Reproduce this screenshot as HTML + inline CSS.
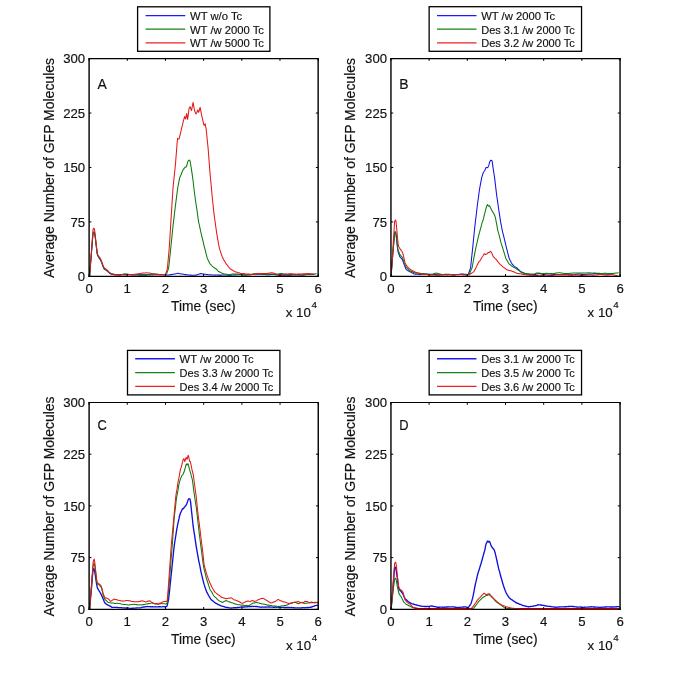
<!DOCTYPE html>
<html><head><meta charset="utf-8"><title>GFP expression</title>
<style>
html,body{margin:0;padding:0;background:#fff;}
svg{display:block;will-change:transform;font-family:"Liberation Sans",sans-serif;}
text{stroke:#111;stroke-width:0.16px;}
</style></head><body>
<svg width="685" height="685" viewBox="0 0 685 685">
<rect x="0" y="0" width="685" height="685" fill="#fff"/>
<defs>
<clipPath id="clipA"><rect x="89.1" y="58.6" width="229.0" height="217.8"/></clipPath>
<clipPath id="clipB"><rect x="390.95" y="58.6" width="229.1" height="217.8"/></clipPath>
<clipPath id="clipC"><rect x="89.1" y="402.5" width="229.2" height="206.8"/></clipPath>
<clipPath id="clipD"><rect x="390.95" y="402.5" width="229.1" height="206.8"/></clipPath>
</defs>
<g id="panelA">
<g clip-path="url(#clipA)">
<polyline points="89.6,276.2 90.1,269.8 90.6,263.6 91.1,257.5 91.6,251.3 92.1,244.9 92.6,238.3 93.1,233.0 93.6,232.4 94.1,232.4 94.6,233.2 95.1,236.5 95.6,240.3 96.1,244.9 96.6,249.1 97.1,253.3 97.6,255.5 98.1,256.3 98.6,257.2 99.1,258.0 99.6,258.7 100.1,259.3 100.6,260.3 101.1,261.4 101.6,262.6 102.1,263.8 102.6,265.2 103.1,266.5 103.6,267.9 104.1,268.8 104.6,269.3 105.1,269.6 105.6,269.9 106.1,270.2 106.6,270.6 107.1,271.0 107.6,271.4 108.1,271.8 108.6,272.3 109.1,272.7 109.6,273.2 110.1,273.5 110.6,273.9 111.1,274.0 111.6,274.2 112.1,274.4 112.6,274.5 113.1,274.7 113.6,274.7 114.1,274.8 114.6,274.8 115.1,274.9 115.6,274.9 116.1,274.9 116.6,274.9 117.1,274.8 117.6,274.8 118.1,274.7 118.6,274.7 119.1,274.7 119.6,274.7 120.1,274.6 120.6,274.6 121.1,274.6 121.6,274.6 122.1,274.6 122.6,274.5 123.1,274.6 123.6,274.6 124.1,274.6 124.6,274.5 125.1,274.5 125.6,274.6 126.1,274.6 126.6,274.6 127.1,274.5 127.6,274.5 128.1,274.7 128.6,274.8 129.1,274.8 129.6,274.7 130.1,274.8 130.6,274.8 131.1,274.8 131.6,274.8 132.1,274.9 132.6,274.9 133.1,274.9 133.6,274.9 134.1,275.0 134.6,275.0 135.1,275.0 135.6,275.0 136.1,275.0 136.6,275.0 137.1,275.0 137.6,275.1 138.1,275.0 138.6,275.1 139.1,275.1 139.6,275.2 140.1,275.2 140.6,275.2 141.1,275.2 141.6,275.1 142.1,275.2 142.6,275.3 143.1,275.3 143.6,275.3 144.1,275.2 144.6,275.2 145.1,275.2 145.6,275.2 146.1,275.1 146.6,275.1 147.1,275.0 147.6,275.0 148.1,275.0 148.6,275.0 149.1,274.9 149.6,274.9 150.1,274.9 150.6,274.9 151.1,274.8 151.6,274.8 152.1,274.9 152.6,274.9 153.1,274.8 153.6,274.8 154.1,274.8 154.6,274.7 155.1,274.7 155.6,274.7 156.1,274.7 156.6,274.7 157.1,274.7 157.6,274.7 158.1,274.7 158.6,274.7 159.1,274.7 159.6,274.7 160.1,274.7 160.6,274.7 161.1,274.7 161.6,274.6 162.1,274.7 162.6,274.8 163.1,274.8 163.6,274.9 164.1,274.9 164.6,274.9 165.1,274.9 165.6,274.9 166.1,274.9 166.6,275.0 167.1,275.1 167.6,275.0 168.1,275.0 168.6,274.9 169.1,274.9 169.6,274.8 170.1,274.7 170.6,274.6 171.1,274.6 171.6,274.5 172.1,274.4 172.6,274.3 173.1,274.2 173.6,274.2 174.1,274.1 174.6,274.0 175.1,273.9 175.6,273.8 176.1,273.7 176.6,273.6 177.1,273.4 177.6,273.3 178.1,273.3 178.6,273.4 179.1,273.6 179.6,273.7 180.1,273.8 180.6,273.8 181.1,273.9 181.6,274.0 182.1,274.0 182.6,274.1 183.1,274.2 183.6,274.3 184.1,274.4 184.6,274.5 185.1,274.6 185.6,274.6 186.1,274.7 186.6,274.7 187.1,274.8 187.6,274.9 188.1,274.9 188.6,275.0 189.1,275.0 189.6,275.0 190.1,275.1 190.6,275.1 191.1,275.1 191.6,275.2 192.1,275.2 192.6,275.2 193.1,275.2 193.6,275.2 194.1,275.3 194.6,275.3 195.1,275.3 195.6,275.1 196.1,275.0 196.6,274.9 197.1,274.7 197.6,274.6 198.1,274.4 198.6,274.3 199.1,274.1 199.6,273.9 200.1,273.7 200.6,273.6 201.1,273.6 201.6,273.7 202.1,273.8 202.6,273.9 203.1,273.9 203.6,274.0 204.1,274.1 204.6,274.2 205.1,274.3 205.6,274.3 206.1,274.4 206.6,274.4 207.1,274.5 207.6,274.6 208.1,274.7 208.6,274.7 209.1,274.7 209.6,274.7 210.1,274.7 210.6,274.8 211.1,274.8 211.6,274.9 212.1,275.0 212.6,275.0 213.1,275.0 213.6,275.0 214.1,275.0 214.6,275.0 215.1,275.1 215.6,275.1 216.1,275.0 216.6,275.0 217.1,275.0 217.6,275.1 218.1,275.1 218.6,275.1 219.1,275.1 219.6,275.1 220.1,275.1 220.6,275.1 221.1,275.1 221.6,275.1 222.1,275.0 222.6,274.9 223.1,274.9 223.6,274.9 224.1,274.9 224.6,274.9 225.1,274.9 225.6,274.9 226.1,274.9 226.6,275.0 227.1,275.0 227.6,275.1 228.1,275.1 228.6,275.1 229.1,275.1 229.6,275.1 230.1,275.1 230.6,275.1 231.1,275.2 231.6,275.2 232.1,275.1 232.6,275.0 233.1,275.0 233.6,275.0 234.1,275.0 234.6,275.0 235.1,274.9 235.6,274.9 236.1,274.8 236.6,274.8 237.1,274.7 237.6,274.7 238.1,274.8 238.6,274.8 239.1,274.8 239.6,274.8 240.1,274.8 240.6,274.8 241.1,274.8 241.6,274.9 242.1,274.9 242.6,274.9 243.1,274.9 243.6,274.8 244.1,274.8 244.6,274.8 245.1,274.8 245.6,274.8 246.1,274.7 246.6,274.7 247.1,274.7 247.6,274.7 248.1,274.7 248.6,274.7 249.1,274.6 249.6,274.6 250.1,274.6 250.6,274.6 251.1,274.6 251.6,274.5 252.1,274.5 252.6,274.4 253.1,274.4 253.6,274.3 254.1,274.2 254.6,274.2 255.1,274.2 255.6,274.2 256.1,274.3 256.6,274.3 257.1,274.3 257.6,274.3 258.1,274.2 258.6,274.2 259.1,274.2 259.6,274.2 260.1,274.2 260.6,274.2 261.1,274.2 261.6,274.2 262.1,274.3 262.6,274.4 263.1,274.4 263.6,274.5 264.1,274.5 264.6,274.5 265.1,274.5 265.6,274.6 266.1,274.6 266.6,274.7 267.1,274.7 267.6,274.7 268.1,274.7 268.6,274.6 269.1,274.6 269.6,274.6 270.1,274.6 270.6,274.5 271.1,274.5 271.6,274.4 272.1,274.4 272.6,274.4 273.1,274.3 273.6,274.4 274.1,274.5 274.6,274.6 275.1,274.7 275.6,274.7 276.1,274.8 276.6,274.9 277.1,274.9 277.6,275.0 278.1,275.1 278.6,275.1 279.1,275.1 279.6,275.1 280.1,275.1 280.6,275.1 281.1,275.1 281.6,275.2 282.1,275.2 282.6,275.1 283.1,275.1 283.6,275.1 284.1,275.1 284.6,275.1 285.1,275.1 285.6,275.1 286.1,275.2 286.6,275.2 287.1,275.2 287.6,275.2 288.1,275.2 288.6,275.2 289.1,275.2 289.6,275.3 290.1,275.3 290.6,275.3 291.1,275.3 291.6,275.3 292.1,275.1 292.6,275.0 293.1,275.0 293.6,275.0 294.1,274.9 294.6,275.0 295.1,275.0 295.6,274.9 296.1,274.8 296.6,274.7 297.1,274.6 297.6,274.7 298.1,274.7 298.6,274.7 299.1,274.8 299.6,274.8 300.1,274.9 300.6,274.9 301.1,275.0 301.6,275.0 302.1,275.1 302.6,275.2 303.1,275.1 303.6,275.0 304.1,275.0 304.6,274.9 305.1,274.8 305.6,274.8 306.1,274.7 306.6,274.6 307.1,274.5 307.6,274.5 308.1,274.4 308.6,274.3 309.1,274.2 309.6,274.2 310.1,274.2 310.6,274.2 311.1,274.3 311.6,274.3 312.1,274.2 312.6,274.2 313.1,274.3 313.6,274.3 314.1,274.3 314.6,274.2" fill="none" stroke="#1010dc" stroke-width="1.05" stroke-linejoin="round"/>
<polyline points="89.6,275.8 90.1,269.5 90.6,263.3 91.1,257.2 91.6,250.9 92.1,244.4 92.6,237.9 93.1,232.7 93.6,232.0 94.1,231.8 94.6,233.0 95.1,236.1 95.6,240.0 96.1,244.4 96.6,248.8 97.1,252.9 97.6,255.1 98.1,256.0 98.6,256.9 99.1,257.8 99.6,258.4 100.1,258.9 100.6,259.7 101.1,260.9 101.6,262.2 102.1,263.6 102.6,265.0 103.1,266.4 103.6,267.5 104.1,268.3 104.6,268.7 105.1,269.2 105.6,269.6 106.1,269.9 106.6,270.1 107.1,270.5 107.6,271.1 108.1,271.7 108.6,272.2 109.1,272.5 109.6,272.9 110.1,273.3 110.6,273.5 111.1,273.7 111.6,273.9 112.1,274.0 112.6,274.1 113.1,274.2 113.6,274.3 114.1,274.5 114.6,274.5 115.1,274.5 115.6,274.5 116.1,274.6 116.6,274.8 117.1,274.9 117.6,275.0 118.1,275.1 118.6,275.2 119.1,275.3 119.6,275.2 120.1,275.0 120.6,274.9 121.1,274.8 121.6,274.6 122.1,274.4 122.6,274.3 123.1,274.2 123.6,274.1 124.1,273.9 124.6,273.8 125.1,273.7 125.6,273.9 126.1,274.0 126.6,274.0 127.1,274.1 127.6,274.1 128.1,274.2 128.6,274.3 129.1,274.4 129.6,274.5 130.1,274.6 130.6,274.7 131.1,274.8 131.6,274.7 132.1,274.7 132.6,274.6 133.1,274.7 133.6,274.7 134.1,274.6 134.6,274.5 135.1,274.4 135.6,274.4 136.1,274.4 136.6,274.4 137.1,274.4 137.6,274.3 138.1,274.3 138.6,274.4 139.1,274.4 139.6,274.4 140.1,274.4 140.6,274.4 141.1,274.4 141.6,274.4 142.1,274.5 142.6,274.4 143.1,274.4 143.6,274.4 144.1,274.4 144.6,274.4 145.1,274.4 145.6,274.5 146.1,274.5 146.6,274.5 147.1,274.5 147.6,274.5 148.1,274.5 148.6,274.4 149.1,274.4 149.6,274.4 150.1,274.4 150.6,274.3 151.1,274.2 151.6,274.3 152.1,274.2 152.6,274.1 153.1,274.0 153.6,274.0 154.1,273.9 154.6,274.0 155.1,273.9 155.6,274.0 156.1,274.1 156.6,274.1 157.1,274.1 157.6,274.2 158.1,274.2 158.6,274.3 159.1,274.4 159.6,274.4 160.1,274.4 160.6,274.4 161.1,274.5 161.6,274.5 162.1,274.5 162.6,274.4 163.1,274.4 163.6,274.5 164.1,274.5 164.6,274.5 165.1,274.4 165.6,274.4 166.1,274.3 166.6,273.7 167.1,272.3 167.6,271.0 168.1,269.5 168.6,268.1 169.1,264.0 169.6,259.3 170.1,254.6 170.6,249.7 171.1,245.0 171.6,240.0 172.1,234.9 172.6,230.0 173.1,225.2 173.6,220.9 174.1,216.6 174.6,212.5 175.1,208.3 175.6,204.4 176.1,200.4 176.6,196.6 177.1,192.6 177.6,188.9 178.1,186.0 178.6,183.4 179.1,180.7 179.6,178.2 180.1,176.7 180.6,175.7 181.1,174.5 181.6,173.2 182.1,172.0 182.6,170.9 183.1,169.8 183.6,169.1 184.1,168.4 184.6,167.8 185.1,167.1 185.6,167.3 186.1,167.0 186.6,166.1 187.1,164.3 187.6,162.2 188.1,161.1 188.6,160.5 189.1,160.1 189.6,160.2 190.1,161.1 190.6,164.0 191.1,167.3 191.6,170.4 192.1,173.8 192.6,177.2 193.1,181.0 193.6,185.2 194.1,189.5 194.6,193.7 195.1,197.5 195.6,201.0 196.1,204.5 196.6,207.7 197.1,211.1 197.6,214.7 198.1,218.5 198.6,221.8 199.1,224.0 199.6,226.3 200.1,228.6 200.6,231.0 201.1,233.3 201.6,235.5 202.1,237.5 202.6,239.6 203.1,241.7 203.6,243.9 204.1,246.0 204.6,247.8 205.1,249.7 205.6,251.8 206.1,253.8 206.6,255.7 207.1,257.7 207.6,258.9 208.1,259.9 208.6,261.0 209.1,262.0 209.6,263.1 210.1,264.1 210.6,264.6 211.1,264.9 211.6,265.4 212.1,266.0 212.6,266.5 213.1,266.9 213.6,267.2 214.1,267.6 214.6,268.0 215.1,268.3 215.6,268.6 216.1,269.0 216.6,269.4 217.1,269.9 217.6,270.5 218.1,271.1 218.6,271.6 219.1,271.8 219.6,272.0 220.1,272.2 220.6,272.3 221.1,272.6 221.6,272.9 222.1,273.2 222.6,273.4 223.1,273.6 223.6,273.8 224.1,273.9 224.6,274.0 225.1,274.0 225.6,274.1 226.1,274.2 226.6,274.2 227.1,274.3 227.6,274.4 228.1,274.6 228.6,274.7 229.1,274.7 229.6,274.6 230.1,274.6 230.6,274.5 231.1,274.3 231.6,274.2 232.1,274.1 232.6,274.0 233.1,273.9 233.6,274.0 234.1,274.0 234.6,274.1 235.1,274.1 235.6,274.1 236.1,274.1 236.6,274.1 237.1,274.0 237.6,274.1 238.1,274.1 238.6,274.2 239.1,274.3 239.6,274.3 240.1,274.4 240.6,274.4 241.1,274.5 241.6,274.6 242.1,274.7 242.6,274.8 243.1,274.8 243.6,274.9 244.1,275.0 244.6,275.1 245.1,275.1 245.6,275.1 246.1,275.1 246.6,275.0 247.1,274.9 247.6,274.9 248.1,274.9 248.6,274.8 249.1,274.7 249.6,274.7 250.1,274.7 250.6,274.6 251.1,274.5 251.6,274.4 252.1,274.4 252.6,274.3 253.1,274.2 253.6,274.1 254.1,274.1 254.6,274.0 255.1,273.8 255.6,273.8 256.1,273.7 256.6,273.6 257.1,273.5 257.6,273.5 258.1,273.6 258.6,273.7 259.1,273.7 259.6,273.7 260.1,273.8 260.6,273.9 261.1,274.0 261.6,274.1 262.1,274.2 262.6,274.2 263.1,274.2 263.6,274.1 264.1,274.2 264.6,274.2 265.1,274.2 265.6,274.2 266.1,274.2 266.6,274.2 267.1,274.1 267.6,274.1 268.1,274.1 268.6,274.1 269.1,274.1 269.6,274.1 270.1,274.0 270.6,274.0 271.1,274.0 271.6,274.1 272.1,274.2 272.6,274.2 273.1,274.2 273.6,274.2 274.1,274.2 274.6,274.3 275.1,274.3 275.6,274.2 276.1,274.2 276.6,274.2 277.1,274.2 277.6,274.1 278.1,274.0 278.6,273.9 279.1,273.8 279.6,273.8 280.1,273.8 280.6,273.6 281.1,273.5 281.6,273.5 282.1,273.6 282.6,273.7 283.1,273.8 283.6,273.9 284.1,273.9 284.6,274.1 285.1,274.1 285.6,274.2 286.1,274.3 286.6,274.3 287.1,274.4 287.6,274.4 288.1,274.4 288.6,274.5 289.1,274.5 289.6,274.4 290.1,274.4 290.6,274.4 291.1,274.4 291.6,274.5 292.1,274.5 292.6,274.4 293.1,274.4 293.6,274.4 294.1,274.5 294.6,274.5 295.1,274.5 295.6,274.6 296.1,274.6 296.6,274.8 297.1,274.9 297.6,275.0 298.1,275.0 298.6,275.0 299.1,275.1 299.6,275.0 300.1,274.9 300.6,274.9 301.1,274.8 301.6,274.8 302.1,274.8 302.6,274.7 303.1,274.7 303.6,274.6 304.1,274.6 304.6,274.5 305.1,274.4 305.6,274.4 306.1,274.3 306.6,274.3 307.1,274.4 307.6,274.5 308.1,274.5 308.6,274.5 309.1,274.5 309.6,274.6 310.1,274.6 310.6,274.6 311.1,274.5 311.6,274.5 312.1,274.5 312.6,274.3 313.1,274.2 313.6,274.2 314.1,274.1 314.6,274.0 315.1,273.9 315.6,273.7 316.1,273.7 316.6,273.7" fill="none" stroke="#0a7a0a" stroke-width="1.05" stroke-linejoin="round"/>
<polyline points="89.6,275.8 90.1,269.0 90.6,262.3 91.1,255.6 91.6,248.8 92.1,241.9 92.6,235.0 93.1,229.3 93.6,228.3 94.1,228.3 94.6,230.0 95.1,234.1 95.6,238.3 96.1,243.0 96.6,247.5 97.1,251.9 97.6,254.2 98.1,255.2 98.6,256.0 99.1,256.7 99.6,257.3 100.1,258.0 100.6,259.0 101.1,260.2 101.6,261.4 102.1,262.7 102.6,264.2 103.1,265.6 103.6,266.8 104.1,267.6 104.6,268.0 105.1,268.5 105.6,268.9 106.1,269.2 106.6,269.5 107.1,270.0 107.6,270.5 108.1,271.0 108.6,271.4 109.1,272.0 109.6,272.5 110.1,272.9 110.6,273.3 111.1,273.5 111.6,273.7 112.1,273.8 112.6,273.9 113.1,274.0 113.6,274.2 114.1,274.3 114.6,274.3 115.1,274.4 115.6,274.5 116.1,274.5 116.6,274.5 117.1,274.5 117.6,274.6 118.1,274.6 118.6,274.7 119.1,274.6 119.6,274.6 120.1,274.7 120.6,274.7 121.1,274.7 121.6,274.6 122.1,274.6 122.6,274.7 123.1,274.8 123.6,274.8 124.1,274.8 124.6,274.8 125.1,274.9 125.6,274.9 126.1,274.9 126.6,274.8 127.1,274.8 127.6,274.8 128.1,274.7 128.6,274.6 129.1,274.6 129.6,274.5 130.1,274.5 130.6,274.6 131.1,274.6 131.6,274.5 132.1,274.4 132.6,274.4 133.1,274.4 133.6,274.4 134.1,274.3 134.6,274.2 135.1,274.2 135.6,274.2 136.1,274.1 136.6,274.1 137.1,274.0 137.6,274.0 138.1,273.9 138.6,273.8 139.1,273.7 139.6,273.6 140.1,273.5 140.6,273.5 141.1,273.4 141.6,273.3 142.1,273.1 142.6,273.1 143.1,273.0 143.6,273.1 144.1,273.0 144.6,273.0 145.1,272.9 145.6,272.9 146.1,272.8 146.6,272.8 147.1,272.8 147.6,272.9 148.1,272.9 148.6,273.0 149.1,273.0 149.6,273.0 150.1,273.1 150.6,273.2 151.1,273.4 151.6,273.5 152.1,273.6 152.6,273.7 153.1,273.9 153.6,274.0 154.1,274.1 154.6,274.1 155.1,274.3 155.6,274.4 156.1,274.4 156.6,274.5 157.1,274.5 157.6,274.5 158.1,274.5 158.6,274.5 159.1,274.6 159.6,274.6 160.1,274.7 160.6,274.7 161.1,274.7 161.6,274.6 162.1,274.7 162.6,274.6 163.1,274.5 163.6,274.4 164.1,274.4 164.6,274.4 165.1,274.4 165.6,273.8 166.1,272.6 166.6,271.3 167.1,270.0 167.6,266.2 168.1,260.7 168.6,255.2 169.1,249.8 169.6,242.4 170.1,234.4 170.6,226.3 171.1,218.1 171.6,210.3 172.1,202.3 172.6,194.3 173.1,186.8 173.6,182.0 174.1,177.3 174.6,172.7 175.1,167.8 175.6,162.6 176.1,156.0 176.6,149.7 177.1,143.3 177.6,138.3 178.1,138.7 178.6,138.9 179.1,138.8 179.6,136.7 180.1,135.0 180.6,132.9 181.1,130.5 181.6,128.4 182.1,126.4 182.6,124.3 183.1,122.1 183.6,120.1 184.1,118.6 184.6,116.5 185.1,117.7 185.6,118.9 186.1,116.5 186.6,113.5 187.1,116.4 187.6,119.3 188.1,116.1 188.6,111.9 189.1,108.3 189.6,107.4 190.1,106.7 190.6,107.9 191.1,109.6 191.6,110.4 192.1,107.5 192.6,105.0 193.1,102.4 193.6,105.3 194.1,108.2 194.6,110.5 195.1,111.9 195.6,113.4 196.1,113.9 196.6,113.0 197.1,111.8 197.6,110.1 198.1,110.9 198.6,112.2 199.1,111.1 199.6,108.9 200.1,107.3 200.6,109.8 201.1,112.4 201.6,115.0 202.1,117.3 202.6,119.6 203.1,121.6 203.6,123.8 204.1,125.4 204.6,124.7 205.1,123.7 205.6,126.1 206.1,129.0 206.6,133.2 207.1,138.5 207.6,143.2 208.1,148.1 208.6,154.7 209.1,161.3 209.6,167.9 210.1,174.1 210.6,179.2 211.1,184.5 211.6,190.0 212.1,195.7 212.6,200.5 213.1,205.5 213.6,210.4 214.1,214.6 214.6,218.2 215.1,221.9 215.6,225.5 216.1,229.0 216.6,232.6 217.1,235.6 217.6,238.5 218.1,241.3 218.6,244.0 219.1,246.6 219.6,248.9 220.1,250.4 220.6,251.9 221.1,253.5 221.6,254.9 222.1,256.3 222.6,257.5 223.1,258.5 223.6,259.5 224.1,260.4 224.6,261.1 225.1,262.0 225.6,262.8 226.1,263.7 226.6,264.4 227.1,264.9 227.6,265.5 228.1,266.3 228.6,266.9 229.1,267.5 229.6,268.1 230.1,268.7 230.6,269.0 231.1,269.4 231.6,269.8 232.1,270.0 232.6,270.2 233.1,270.5 233.6,270.9 234.1,271.2 234.6,271.5 235.1,271.7 235.6,271.9 236.1,272.0 236.6,272.1 237.1,272.3 237.6,272.4 238.1,272.6 238.6,272.7 239.1,272.8 239.6,273.0 240.1,273.3 240.6,273.5 241.1,273.5 241.6,273.5 242.1,273.6 242.6,273.7 243.1,273.7 243.6,273.6 244.1,273.6 244.6,273.7 245.1,273.9 245.6,273.9 246.1,273.9 246.6,273.9 247.1,274.0 247.6,274.1 248.1,274.0 248.6,274.1 249.1,274.1 249.6,274.3 250.1,274.3 250.6,274.2 251.1,274.2 251.6,274.2 252.1,274.2 252.6,274.0 253.1,273.9 253.6,273.9 254.1,273.9 254.6,273.9 255.1,274.0 255.6,273.9 256.1,273.8 256.6,273.7 257.1,273.7 257.6,273.7 258.1,273.6 258.6,273.6 259.1,273.6 259.6,273.5 260.1,273.4 260.6,273.5 261.1,273.6 261.6,273.6 262.1,273.5 262.6,273.5 263.1,273.6 263.6,273.6 264.1,273.5 264.6,273.5 265.1,273.5 265.6,273.6 266.1,273.6 266.6,273.5 267.1,273.4 267.6,273.3 268.1,273.2 268.6,273.2 269.1,273.1 269.6,273.0 270.1,273.0 270.6,272.9 271.1,272.8 271.6,272.7 272.1,272.7 272.6,272.9 273.1,273.0 273.6,273.1 274.1,273.3 274.6,273.5 275.1,273.7 275.6,273.8 276.1,274.0 276.6,274.2 277.1,274.4 277.6,274.5 278.1,274.7 278.6,274.8 279.1,274.8 279.6,274.7 280.1,274.7 280.6,274.7 281.1,274.6 281.6,274.6 282.1,274.4 282.6,274.4 283.1,274.4 283.6,274.4 284.1,274.4 284.6,274.3 285.1,274.2 285.6,274.1 286.1,274.0 286.6,274.0 287.1,273.9 287.6,273.9 288.1,273.9 288.6,273.9 289.1,273.7 289.6,273.6 290.1,273.7 290.6,273.8 291.1,273.8 291.6,273.8 292.1,273.8 292.6,273.8 293.1,273.9 293.6,274.0 294.1,274.0 294.6,274.0 295.1,274.0 295.6,274.1 296.1,274.2 296.6,274.2 297.1,274.1 297.6,274.1 298.1,274.1 298.6,274.1 299.1,273.9 299.6,274.0 300.1,274.0 300.6,274.0 301.1,273.9 301.6,273.9 302.1,274.0 302.6,273.9 303.1,273.8 303.6,273.7 304.1,273.8 304.6,273.7 305.1,273.8 305.6,273.8 306.1,273.7 306.6,273.7 307.1,273.7 307.6,273.6 308.1,273.6 308.6,273.6 309.1,273.7 309.6,273.8 310.1,273.9 310.6,273.8 311.1,273.8 311.6,274.0 312.1,274.1 312.6,274.1 313.1,274.2 313.6,274.2" fill="none" stroke="#e41616" stroke-width="1.05" stroke-linejoin="round"/>
</g>
<path d="M89.1,58.00V276.95M318.15,58.00V276.95" stroke="#000" stroke-width="1.4" fill="none"/>
<path d="M88.50,58.6H318.75M88.50,276.35H318.75" stroke="#000" stroke-width="1.2" fill="none"/>
<line x1="89.10" y1="276.35" x2="89.10" y2="274.05" stroke="#000" stroke-width="1"/>
<line x1="89.10" y1="58.6" x2="89.10" y2="60.9" stroke="#000" stroke-width="1"/>
<text x="89.10" y="293.0" font-size="13.2" text-anchor="middle" fill="#111">0</text>
<line x1="127.27" y1="276.35" x2="127.27" y2="274.05" stroke="#000" stroke-width="1"/>
<line x1="127.27" y1="58.6" x2="127.27" y2="60.9" stroke="#000" stroke-width="1"/>
<text x="127.27" y="293.0" font-size="13.2" text-anchor="middle" fill="#111">1</text>
<line x1="165.45" y1="276.35" x2="165.45" y2="274.05" stroke="#000" stroke-width="1"/>
<line x1="165.45" y1="58.6" x2="165.45" y2="60.9" stroke="#000" stroke-width="1"/>
<text x="165.45" y="293.0" font-size="13.2" text-anchor="middle" fill="#111">2</text>
<line x1="203.62" y1="276.35" x2="203.62" y2="274.05" stroke="#000" stroke-width="1"/>
<line x1="203.62" y1="58.6" x2="203.62" y2="60.9" stroke="#000" stroke-width="1"/>
<text x="203.62" y="293.0" font-size="13.2" text-anchor="middle" fill="#111">3</text>
<line x1="241.80" y1="276.35" x2="241.80" y2="274.05" stroke="#000" stroke-width="1"/>
<line x1="241.80" y1="58.6" x2="241.80" y2="60.9" stroke="#000" stroke-width="1"/>
<text x="241.80" y="293.0" font-size="13.2" text-anchor="middle" fill="#111">4</text>
<line x1="279.98" y1="276.35" x2="279.98" y2="274.05" stroke="#000" stroke-width="1"/>
<line x1="279.98" y1="58.6" x2="279.98" y2="60.9" stroke="#000" stroke-width="1"/>
<text x="279.98" y="293.0" font-size="13.2" text-anchor="middle" fill="#111">5</text>
<line x1="318.15" y1="276.35" x2="318.15" y2="274.05" stroke="#000" stroke-width="1"/>
<line x1="318.15" y1="58.6" x2="318.15" y2="60.9" stroke="#000" stroke-width="1"/>
<text x="318.15" y="293.0" font-size="13.2" text-anchor="middle" fill="#111">6</text>
<line x1="89.1" y1="276.35" x2="91.39999999999999" y2="276.35" stroke="#000" stroke-width="1"/>
<line x1="318.15" y1="276.35" x2="315.84999999999997" y2="276.35" stroke="#000" stroke-width="1"/>
<text x="85.2" y="281.1" font-size="13.2" text-anchor="end" fill="#111">0</text>
<line x1="89.1" y1="221.91" x2="91.39999999999999" y2="221.91" stroke="#000" stroke-width="1"/>
<line x1="318.15" y1="221.91" x2="315.84999999999997" y2="221.91" stroke="#000" stroke-width="1"/>
<text x="85.2" y="226.6" font-size="13.2" text-anchor="end" fill="#111">75</text>
<line x1="89.1" y1="167.48" x2="91.39999999999999" y2="167.48" stroke="#000" stroke-width="1"/>
<line x1="318.15" y1="167.48" x2="315.84999999999997" y2="167.48" stroke="#000" stroke-width="1"/>
<text x="85.2" y="172.2" font-size="13.2" text-anchor="end" fill="#111">150</text>
<line x1="89.1" y1="113.04" x2="91.39999999999999" y2="113.04" stroke="#000" stroke-width="1"/>
<line x1="318.15" y1="113.04" x2="315.84999999999997" y2="113.04" stroke="#000" stroke-width="1"/>
<text x="85.2" y="117.7" font-size="13.2" text-anchor="end" fill="#111">225</text>
<line x1="89.1" y1="58.60" x2="91.39999999999999" y2="58.60" stroke="#000" stroke-width="1"/>
<line x1="318.15" y1="58.60" x2="315.84999999999997" y2="58.60" stroke="#000" stroke-width="1"/>
<text x="85.2" y="63.3" font-size="13.2" text-anchor="end" fill="#111">300</text>
<text x="203.3" y="311.0" font-size="13.8" text-anchor="middle" fill="#111">Time (sec)</text>
<text x="316.9" y="317.4" font-size="13.3" text-anchor="end" fill="#111">x 10<tspan dy="-9.2" dx="0.6" font-size="9.8">4</tspan></text>
<text transform="translate(53.7,168.0) rotate(-90)" font-size="14.1" text-anchor="middle" textLength="220" lengthAdjust="spacingAndGlyphs" fill="#111">Average Number of GFP Molecules</text>
<text x="97.5" y="88.6" font-size="13.8" textLength="9.3" lengthAdjust="spacingAndGlyphs" fill="#111">A</text>
<rect x="137.6" y="6.8" width="132.3" height="44.5" fill="#fff" stroke="#000" stroke-width="1.3"/>
<line x1="145.6" y1="15.7" x2="185.3" y2="15.7" stroke="#1c1cf5" stroke-width="1.25"/>
<text x="190.0" y="20.0" font-size="11.6" textLength="52.2" lengthAdjust="spacingAndGlyphs" fill="#111">WT w/o Tc</text>
<line x1="145.6" y1="29.2" x2="185.3" y2="29.2" stroke="#148414" stroke-width="1.25"/>
<text x="190.0" y="33.5" font-size="11.6" textLength="74.0" lengthAdjust="spacingAndGlyphs" fill="#111">WT /w 2000 Tc</text>
<line x1="145.6" y1="42.9" x2="185.3" y2="42.9" stroke="#ee2222" stroke-width="1.25"/>
<text x="190.0" y="47.2" font-size="11.6" textLength="74.0" lengthAdjust="spacingAndGlyphs" fill="#111">WT /w 5000 Tc</text>
</g>
<g id="panelB">
<g clip-path="url(#clipB)">
<polyline points="391.1,275.7 391.6,269.4 392.1,263.2 392.6,257.0 393.1,250.8 393.6,244.9 394.1,239.0 394.6,233.1 395.1,231.8 395.6,232.4 396.1,234.9 396.6,239.6 397.1,244.2 397.6,249.0 398.1,251.8 398.6,253.2 399.1,254.7 399.6,256.3 400.1,256.9 400.6,257.5 401.1,258.1 401.6,258.8 402.1,259.4 402.6,260.1 403.1,261.5 403.6,262.9 404.1,264.4 404.6,265.7 405.1,266.9 405.6,268.2 406.1,269.3 406.6,269.6 407.1,270.0 407.6,270.4 408.1,270.7 408.6,271.0 409.1,271.3 409.6,271.6 410.1,271.9 410.6,272.0 411.1,272.3 411.6,272.6 412.1,272.9 412.6,273.1 413.1,273.4 413.6,273.7 414.1,274.0 414.6,274.0 415.1,274.1 415.6,274.1 416.1,274.1 416.6,274.1 417.1,274.2 417.6,274.2 418.1,274.2 418.6,274.3 419.1,274.5 419.6,274.6 420.1,274.6 420.6,274.5 421.1,274.3 421.6,274.2 422.1,274.2 422.6,274.2 423.1,274.2 423.6,274.2 424.1,274.2 424.6,274.1 425.1,274.1 425.6,274.1 426.1,274.1 426.6,274.0 427.1,274.0 427.6,274.0 428.1,274.1 428.6,274.2 429.1,274.2 429.6,274.3 430.1,274.3 430.6,274.3 431.1,274.2 431.6,274.3 432.1,274.4 432.6,274.5 433.1,274.5 433.6,274.5 434.1,274.5 434.6,274.5 435.1,274.6 435.6,274.6 436.1,274.6 436.6,274.7 437.1,274.7 437.6,274.7 438.1,274.7 438.6,274.7 439.1,274.7 439.6,274.7 440.1,274.6 440.6,274.6 441.1,274.5 441.6,274.5 442.1,274.4 442.6,274.4 443.1,274.4 443.6,274.4 444.1,274.5 444.6,274.5 445.1,274.6 445.6,274.6 446.1,274.7 446.6,274.7 447.1,274.8 447.6,274.7 448.1,274.7 448.6,274.8 449.1,274.8 449.6,274.8 450.1,274.7 450.6,274.7 451.1,274.8 451.6,274.8 452.1,274.9 452.6,274.9 453.1,274.9 453.6,274.9 454.1,274.9 454.6,274.9 455.1,274.9 455.6,274.8 456.1,274.7 456.6,274.7 457.1,274.7 457.6,274.6 458.1,274.5 458.6,274.4 459.1,274.3 459.6,274.2 460.1,274.2 460.6,274.1 461.1,274.1 461.6,274.1 462.1,274.1 462.6,274.1 463.1,274.1 463.6,274.1 464.1,274.2 464.6,274.2 465.1,274.2 465.6,274.2 466.1,274.3 466.6,274.4 467.1,274.4 467.6,274.4 468.1,274.4 468.6,273.5 469.1,272.0 469.6,270.5 470.1,269.2 470.6,267.7 471.1,262.9 471.6,258.1 472.1,253.4 472.6,248.7 473.1,243.8 473.6,238.7 474.1,233.7 474.6,228.7 475.1,224.2 475.6,220.0 476.1,216.0 476.6,211.7 477.1,207.3 477.6,203.3 478.1,199.7 478.6,196.1 479.1,192.3 479.6,188.9 480.1,186.2 480.6,183.4 481.1,180.8 481.6,178.0 482.1,176.4 482.6,174.7 483.1,173.2 483.6,172.0 484.1,171.5 484.6,170.8 485.1,169.7 485.6,168.6 486.1,167.6 486.6,167.5 487.1,167.5 487.6,167.7 488.1,167.0 488.6,165.9 489.1,164.3 489.6,162.1 490.1,161.2 490.6,160.3 491.1,160.2 491.6,160.4 492.1,161.0 492.6,164.3 493.1,168.0 493.6,171.4 494.1,174.5 494.6,177.9 495.1,181.9 495.6,186.2 496.1,190.6 496.6,194.8 497.1,198.3 497.6,201.7 498.1,205.2 498.6,208.7 499.1,212.1 499.6,215.4 500.1,218.7 500.6,221.9 501.1,224.3 501.6,227.0 502.1,229.6 502.6,231.9 503.1,233.8 503.6,235.9 504.1,237.9 504.6,240.0 505.1,242.0 505.6,244.2 506.1,246.4 506.6,248.3 507.1,250.2 507.6,252.3 508.1,254.3 508.6,256.2 509.1,258.2 509.6,259.2 510.1,260.3 510.6,261.2 511.1,262.3 511.6,263.3 512.1,264.0 512.6,264.4 513.1,265.1 513.6,265.7 514.1,266.2 514.6,266.6 515.1,266.9 515.6,267.1 516.1,267.4 516.6,267.8 517.1,268.1 517.6,268.5 518.1,269.1 518.6,269.6 519.1,270.1 519.6,270.6 520.1,271.1 520.6,271.6 521.1,271.8 521.6,272.0 522.1,272.2 522.6,272.4 523.1,272.7 523.6,272.9 524.1,273.1 524.6,273.4 525.1,273.7 525.6,273.8 526.1,273.9 526.6,274.0 527.1,274.1 527.6,274.1 528.1,274.2 528.6,274.3 529.1,274.3 529.6,274.4 530.1,274.5 530.6,274.6 531.1,274.7 531.6,274.7 532.1,274.7 532.6,274.6 533.1,274.6 533.6,274.6 534.1,274.6 534.6,274.6 535.1,274.6 535.6,274.5 536.1,274.2 536.6,274.1 537.1,274.0 537.6,273.8 538.1,273.7 538.6,273.6 539.1,273.4 539.6,273.6 540.1,273.7 540.6,273.8 541.1,273.8 541.6,274.0 542.1,274.2 542.6,274.3 543.1,274.4 543.6,274.4 544.1,274.4 544.6,274.3 545.1,274.2 545.6,274.2 546.1,274.1 546.6,274.0 547.1,274.0 547.6,274.0 548.1,273.9 548.6,273.9 549.1,274.0 549.6,274.0 550.1,274.0 550.6,274.1 551.1,274.3 551.6,274.3 552.1,274.3 552.6,274.3 553.1,274.4 553.6,274.4 554.1,274.4 554.6,274.4 555.1,274.5 555.6,274.6 556.1,274.7 556.6,274.7 557.1,274.7 557.6,274.7 558.1,274.7 558.6,274.7 559.1,274.7 559.6,274.7 560.1,274.7 560.6,274.7 561.1,274.7 561.6,274.7 562.1,274.7 562.6,274.7 563.1,274.7 563.6,274.7 564.1,274.7 564.6,274.7 565.1,274.7 565.6,274.7 566.1,274.7 566.6,274.7 567.1,274.7 567.6,274.7 568.1,274.8 568.6,274.9 569.1,274.9 569.6,275.0 570.1,275.0 570.6,275.0 571.1,275.0 571.6,275.1 572.1,275.1 572.6,275.1 573.1,274.9 573.6,274.8 574.1,274.7 574.6,274.7 575.1,274.7 575.6,274.5 576.1,274.3 576.6,274.2 577.1,274.1 577.6,274.1 578.1,274.0 578.6,274.0 579.1,274.0 579.6,274.1 580.1,274.1 580.6,274.2 581.1,274.3 581.6,274.3 582.1,274.3 582.6,274.3 583.1,274.3 583.6,274.4 584.1,274.4 584.6,274.4 585.1,274.3 585.6,274.3 586.1,274.3 586.6,274.3 587.1,274.2 587.6,274.2 588.1,274.2 588.6,274.1 589.1,274.1 589.6,274.0 590.1,274.0 590.6,274.0 591.1,274.0 591.6,273.9 592.1,273.9 592.6,273.8 593.1,273.7 593.6,273.7 594.1,273.6 594.6,273.6 595.1,273.5 595.6,273.5 596.1,273.5 596.6,273.6 597.1,273.6 597.6,273.7 598.1,273.6 598.6,273.6 599.1,273.6 599.6,273.7 600.1,273.8 600.6,273.9 601.1,273.9 601.6,273.9 602.1,273.9 602.6,273.8 603.1,273.8 603.6,273.9 604.1,274.0 604.6,274.0 605.1,274.1 605.6,274.1 606.1,274.2 606.6,274.2 607.1,274.2 607.6,274.3 608.1,274.2 608.6,274.2 609.1,274.1 609.6,274.1 610.1,274.1 610.6,274.1 611.1,274.1 611.6,274.0 612.1,273.9 612.6,273.9 613.1,273.8 613.6,273.8" fill="none" stroke="#1010dc" stroke-width="1.05" stroke-linejoin="round"/>
<polyline points="391.1,275.7 391.6,269.5 392.1,263.2 392.6,256.9 393.1,250.6 393.6,244.7 394.1,238.8 394.6,232.9 395.1,231.8 395.6,232.6 396.1,235.1 396.6,239.3 397.1,243.4 397.6,247.6 398.1,249.9 398.6,251.3 399.1,252.7 399.6,254.1 400.1,254.6 400.6,255.3 401.1,256.0 401.6,256.7 402.1,257.1 402.6,257.8 403.1,259.5 403.6,261.2 404.1,262.9 404.6,264.0 405.1,265.1 405.6,266.2 406.1,267.2 406.6,267.6 407.1,268.0 407.6,268.4 408.1,268.9 408.6,269.3 409.1,269.9 409.6,270.4 410.1,270.7 410.6,270.9 411.1,271.2 411.6,271.4 412.1,271.6 412.6,271.8 413.1,272.2 413.6,272.6 414.1,272.8 414.6,272.8 415.1,272.8 415.6,272.9 416.1,272.9 416.6,273.0 417.1,273.1 417.6,273.0 418.1,273.0 418.6,273.1 419.1,273.1 419.6,273.2 420.1,273.3 420.6,273.4 421.1,273.6 421.6,273.6 422.1,273.6 422.6,273.6 423.1,273.7 423.6,273.6 424.1,273.7 424.6,273.8 425.1,273.9 425.6,273.9 426.1,274.0 426.6,274.1 427.1,274.2 427.6,274.3 428.1,274.4 428.6,274.5 429.1,274.7 429.6,274.9 430.1,274.9 430.6,274.7 431.1,274.5 431.6,274.4 432.1,274.3 432.6,274.2 433.1,274.0 433.6,273.8 434.1,273.6 434.6,273.4 435.1,273.2 435.6,273.2 436.1,273.1 436.6,273.3 437.1,273.3 437.6,273.3 438.1,273.4 438.6,273.6 439.1,273.7 439.6,273.9 440.1,274.1 440.6,274.3 441.1,274.3 441.6,274.4 442.1,274.6 442.6,274.6 443.1,274.5 443.6,274.4 444.1,274.4 444.6,274.3 445.1,274.3 445.6,274.2 446.1,274.2 446.6,274.3 447.1,274.3 447.6,274.3 448.1,274.2 448.6,274.3 449.1,274.3 449.6,274.3 450.1,274.5 450.6,274.6 451.1,274.6 451.6,274.6 452.1,274.6 452.6,274.8 453.1,274.8 453.6,274.7 454.1,274.6 454.6,274.6 455.1,274.8 455.6,274.8 456.1,274.6 456.6,274.5 457.1,274.4 457.6,274.4 458.1,274.4 458.6,274.5 459.1,274.5 459.6,274.4 460.1,274.4 460.6,274.4 461.1,274.4 461.6,274.5 462.1,274.6 462.6,274.5 463.1,274.5 463.6,274.7 464.1,274.7 464.6,274.8 465.1,274.8 465.6,274.9 466.1,274.9 466.6,274.8 467.1,274.7 467.6,274.7 468.1,274.6 468.6,274.6 469.1,274.5 469.6,273.5 470.1,272.2 470.6,271.1 471.1,270.0 471.6,268.9 472.1,267.8 472.6,265.0 473.1,262.3 473.6,259.4 474.1,256.8 474.6,254.2 475.1,251.6 475.6,249.1 476.1,246.7 476.6,244.5 477.1,242.4 477.6,240.2 478.1,237.8 478.6,235.9 479.1,234.0 479.6,232.2 480.1,230.1 480.6,228.3 481.1,226.6 481.6,224.6 482.1,222.7 482.6,221.2 483.1,220.1 483.6,218.2 484.1,215.9 484.6,213.8 485.1,211.9 485.6,209.9 486.1,208.1 486.6,206.5 487.1,205.2 487.6,204.6 488.1,205.7 488.6,206.1 489.1,205.5 489.6,206.1 490.1,206.9 490.6,208.1 491.1,209.0 491.6,209.9 492.1,210.9 492.6,211.6 493.1,212.7 493.6,213.3 494.1,214.0 494.6,215.2 495.1,216.5 495.6,218.7 496.1,221.3 496.6,223.9 497.1,226.6 497.6,229.3 498.1,231.6 498.6,233.4 499.1,234.9 499.6,236.8 500.1,239.2 500.6,241.4 501.1,243.2 501.6,244.7 502.1,246.3 502.6,247.7 503.1,249.4 503.6,251.0 504.1,252.6 504.6,254.3 505.1,255.9 505.6,257.6 506.1,259.0 506.6,259.8 507.1,260.6 507.6,261.5 508.1,262.3 508.6,263.2 509.1,264.0 509.6,264.3 510.1,264.6 510.6,265.0 511.1,265.5 511.6,265.9 512.1,266.3 512.6,266.5 513.1,267.0 513.6,267.3 514.1,267.4 514.6,267.6 515.1,268.0 515.6,268.4 516.1,268.7 516.6,269.0 517.1,269.3 517.6,269.6 518.1,270.0 518.6,270.3 519.1,270.6 519.6,270.9 520.1,271.3 520.6,271.8 521.1,272.1 521.6,272.5 522.1,272.7 522.6,272.9 523.1,272.9 523.6,273.0 524.1,273.2 524.6,273.3 525.1,273.4 525.6,273.5 526.1,273.6 526.6,273.6 527.1,273.7 527.6,273.8 528.1,273.9 528.6,273.8 529.1,273.8 529.6,273.9 530.1,273.9 530.6,273.9 531.1,274.0 531.6,274.1 532.1,274.1 532.6,274.1 533.1,274.2 533.6,274.1 534.1,274.0 534.6,273.9 535.1,273.7 535.6,273.5 536.1,273.3 536.6,273.1 537.1,273.0 537.6,273.0 538.1,272.9 538.6,272.9 539.1,273.0 539.6,273.2 540.1,273.2 540.6,273.3 541.1,273.4 541.6,273.6 542.1,273.7 542.6,273.6 543.1,273.6 543.6,273.5 544.1,273.4 544.6,273.4 545.1,273.4 545.6,273.4 546.1,273.2 546.6,273.2 547.1,273.2 547.6,273.3 548.1,273.4 548.6,273.4 549.1,273.5 549.6,273.5 550.1,273.5 550.6,273.5 551.1,273.6 551.6,273.6 552.1,273.7 552.6,273.7 553.1,273.7 553.6,273.6 554.1,273.6 554.6,273.5 555.1,273.3 555.6,273.1 556.1,273.0 556.6,273.0 557.1,272.9 557.6,272.9 558.1,272.8 558.6,272.8 559.1,272.7 559.6,272.7 560.1,272.8 560.6,272.9 561.1,272.9 561.6,273.0 562.1,273.1 562.6,273.2 563.1,273.3 563.6,273.4 564.1,273.5 564.6,273.6 565.1,273.6 565.6,273.6 566.1,273.6 566.6,273.5 567.1,273.5 567.6,273.4 568.1,273.4 568.6,273.4 569.1,273.4 569.6,273.3 570.1,273.2 570.6,273.2 571.1,273.2 571.6,273.2 572.1,273.2 572.6,273.0 573.1,273.0 573.6,273.0 574.1,273.0 574.6,273.0 575.1,273.0 575.6,273.1 576.1,273.0 576.6,273.0 577.1,273.0 577.6,273.0 578.1,273.0 578.6,272.9 579.1,272.9 579.6,272.9 580.1,273.0 580.6,273.0 581.1,273.0 581.6,273.0 582.1,273.0 582.6,273.0 583.1,273.1 583.6,273.0 584.1,273.0 584.6,273.0 585.1,273.0 585.6,273.0 586.1,272.9 586.6,273.0 587.1,273.0 587.6,273.0 588.1,272.8 588.6,272.8 589.1,272.8 589.6,272.8 590.1,272.9 590.6,272.9 591.1,272.9 591.6,272.9 592.1,273.1 592.6,273.2 593.1,273.1 593.6,273.0 594.1,273.1 594.6,273.0 595.1,273.0 595.6,273.1 596.1,273.3 596.6,273.3 597.1,273.3 597.6,273.3 598.1,273.3 598.6,273.3 599.1,273.3 599.6,273.3 600.1,273.4 600.6,273.4 601.1,273.4 601.6,273.5 602.1,273.5 602.6,273.5 603.1,273.4 603.6,273.3 604.1,273.2 604.6,273.3 605.1,273.4 605.6,273.3 606.1,273.3 606.6,273.3 607.1,273.4 607.6,273.4 608.1,273.5 608.6,273.5 609.1,273.4 609.6,273.4 610.1,273.4 610.6,273.4 611.1,273.4 611.6,273.4 612.1,273.4 612.6,273.4 613.1,273.4 613.6,273.3 614.1,273.2 614.6,273.2 615.1,273.2 615.6,273.1 616.1,273.0 616.6,273.0 617.1,272.9 617.6,272.9 618.1,272.8 618.6,272.8" fill="none" stroke="#0a7a0a" stroke-width="1.05" stroke-linejoin="round"/>
<polyline points="391.1,275.8 391.6,268.3 392.1,260.9 392.6,253.2 393.1,245.3 393.6,237.5 394.1,229.7 394.6,221.7 395.1,220.4 395.6,220.0 396.1,222.0 396.6,227.5 397.1,233.1 397.6,238.6 398.1,243.4 398.6,246.5 399.1,247.2 399.6,248.2 400.1,248.9 400.6,249.6 401.1,250.4 401.6,251.0 402.1,251.7 402.6,252.9 403.1,254.2 403.6,256.3 404.1,258.7 404.6,261.0 405.1,262.9 405.6,264.0 406.1,265.1 406.6,265.7 407.1,266.3 407.6,266.8 408.1,267.4 408.6,267.8 409.1,268.3 409.6,268.8 410.1,269.2 410.6,269.7 411.1,269.9 411.6,270.2 412.1,270.6 412.6,270.8 413.1,271.0 413.6,271.2 414.1,271.5 414.6,271.8 415.1,272.0 415.6,272.2 416.1,272.4 416.6,272.6 417.1,272.8 417.6,272.9 418.1,273.1 418.6,273.4 419.1,273.6 419.6,273.8 420.1,273.8 420.6,273.9 421.1,274.0 421.6,274.1 422.1,274.1 422.6,274.2 423.1,274.2 423.6,274.2 424.1,274.2 424.6,274.3 425.1,274.4 425.6,274.4 426.1,274.4 426.6,274.4 427.1,274.5 427.6,274.7 428.1,274.7 428.6,274.7 429.1,274.7 429.6,274.7 430.1,274.7 430.6,274.8 431.1,274.9 431.6,274.9 432.1,274.9 432.6,274.9 433.1,274.9 433.6,274.9 434.1,274.9 434.6,274.9 435.1,275.0 435.6,275.1 436.1,275.1 436.6,275.1 437.1,275.0 437.6,275.1 438.1,275.1 438.6,275.1 439.1,275.1 439.6,275.1 440.1,275.0 440.6,275.0 441.1,275.1 441.6,275.0 442.1,275.0 442.6,274.9 443.1,274.9 443.6,274.9 444.1,274.8 444.6,274.8 445.1,274.8 445.6,274.8 446.1,274.7 446.6,274.6 447.1,274.6 447.6,274.6 448.1,274.6 448.6,274.5 449.1,274.5 449.6,274.5 450.1,274.5 450.6,274.6 451.1,274.6 451.6,274.5 452.1,274.6 452.6,274.7 453.1,274.8 453.6,274.8 454.1,274.7 454.6,274.6 455.1,274.6 455.6,274.5 456.1,274.5 456.6,274.5 457.1,274.6 457.6,274.7 458.1,274.7 458.6,274.6 459.1,274.6 459.6,274.6 460.1,274.5 460.6,274.5 461.1,274.5 461.6,274.6 462.1,274.7 462.6,274.7 463.1,274.7 463.6,274.7 464.1,274.8 464.6,274.8 465.1,274.8 465.6,274.9 466.1,274.9 466.6,274.9 467.1,275.0 467.6,274.9 468.1,274.9 468.6,274.9 469.1,274.9 469.6,274.5 470.1,274.1 470.6,273.8 471.1,273.5 471.6,273.2 472.1,272.9 472.6,272.6 473.1,272.2 473.6,271.8 474.1,271.2 474.6,270.1 475.1,269.2 475.6,268.3 476.1,267.4 476.6,266.4 477.1,265.3 477.6,264.2 478.1,263.2 478.6,262.4 479.1,261.6 479.6,261.2 480.1,260.6 480.6,259.8 481.1,258.8 481.6,258.0 482.1,257.1 482.6,256.5 483.1,255.7 483.6,254.8 484.1,253.8 484.6,253.7 485.1,254.4 485.6,254.6 486.1,254.2 486.6,254.0 487.1,253.7 487.6,253.1 488.1,252.6 488.6,252.6 489.1,252.6 489.6,252.1 490.1,251.6 490.6,251.3 491.1,252.0 491.6,252.8 492.1,253.8 492.6,255.1 493.1,256.2 493.6,256.8 494.1,257.3 494.6,258.0 495.1,258.5 495.6,259.0 496.1,259.4 496.6,260.0 497.1,260.6 497.6,261.4 498.1,262.0 498.6,262.6 499.1,263.2 499.6,263.9 500.1,264.4 500.6,264.8 501.1,265.2 501.6,265.5 502.1,266.0 502.6,266.6 503.1,267.0 503.6,267.3 504.1,267.7 504.6,268.0 505.1,268.4 505.6,268.8 506.1,269.2 506.6,269.5 507.1,269.9 507.6,270.0 508.1,270.1 508.6,270.2 509.1,270.4 509.6,270.6 510.1,270.8 510.6,270.7 511.1,270.8 511.6,271.0 512.1,271.2 512.6,271.4 513.1,271.6 513.6,271.8 514.1,272.0 514.6,272.2 515.1,272.4 515.6,272.7 516.1,272.9 516.6,273.1 517.1,273.2 517.6,273.4 518.1,273.5 518.6,273.6 519.1,273.6 519.6,273.7 520.1,273.7 520.6,273.8 521.1,273.8 521.6,274.0 522.1,274.2 522.6,274.3 523.1,274.4 523.6,274.4 524.1,274.5 524.6,274.5 525.1,274.7 525.6,274.7 526.1,274.8 526.6,274.8 527.1,274.9 527.6,274.9 528.1,275.0 528.6,275.0 529.1,275.1 529.6,275.1 530.1,275.1 530.6,275.1 531.1,275.1 531.6,275.1 532.1,275.2 532.6,275.3 533.1,275.4 533.6,275.4 534.1,275.4 534.6,275.3 535.1,275.4 535.6,275.4 536.1,275.4 536.6,275.4 537.1,275.4 537.6,275.4 538.1,275.3 538.6,275.2 539.1,275.3 539.6,275.3 540.1,275.3 540.6,275.2 541.1,275.3 541.6,275.4 542.1,275.3 542.6,275.2 543.1,275.3 543.6,275.3 544.1,275.3 544.6,275.2 545.1,275.3 545.6,275.3 546.1,275.3 546.6,275.3 547.1,275.2 547.6,275.3 548.1,275.4 548.6,275.5 549.1,275.5 549.6,275.5 550.1,275.5 550.6,275.5 551.1,275.5 551.6,275.6 552.1,275.5 552.6,275.4 553.1,275.4 553.6,275.3 554.1,275.2 554.6,275.0 555.1,275.0 555.6,274.9 556.1,274.8 556.6,274.6 557.1,274.6 557.6,274.6 558.1,274.6 558.6,274.7 559.1,274.7 559.6,274.7 560.1,274.6 560.6,274.6 561.1,274.6 561.6,274.7 562.1,274.7 562.6,274.6 563.1,274.7 563.6,274.8 564.1,274.8 564.6,274.7 565.1,274.7 565.6,274.6 566.1,274.7 566.6,274.7 567.1,274.7 567.6,274.6 568.1,274.6 568.6,274.6 569.1,274.6 569.6,274.6 570.1,274.6 570.6,274.7 571.1,274.6 571.6,274.6 572.1,274.7 572.6,274.8 573.1,274.8 573.6,274.8 574.1,274.8 574.6,274.8 575.1,274.9 575.6,274.9 576.1,274.9 576.6,275.0 577.1,275.0 577.6,275.0 578.1,275.1 578.6,275.2 579.1,275.2 579.6,275.2 580.1,275.1 580.6,275.3 581.1,275.3 581.6,275.4 582.1,275.4 582.6,275.4 583.1,275.4 583.6,275.3 584.1,275.2 584.6,275.3 585.1,275.3 585.6,275.3 586.1,275.1 586.6,275.1 587.1,275.0 587.6,275.0 588.1,274.9 588.6,274.9 589.1,274.9 589.6,275.0 590.1,275.1 590.6,275.1 591.1,275.0 591.6,275.0 592.1,275.1 592.6,275.2 593.1,275.2 593.6,275.1 594.1,275.1 594.6,275.0 595.1,275.0 595.6,275.0 596.1,275.0 596.6,274.8 597.1,274.7 597.6,274.7 598.1,274.7 598.6,274.6 599.1,274.5 599.6,274.3 600.1,274.3 600.6,274.3 601.1,274.4 601.6,274.5 602.1,274.6 602.6,274.7 603.1,274.7 603.6,274.7 604.1,274.8 604.6,275.0 605.1,275.0 605.6,275.0 606.1,275.0 606.6,275.0 607.1,275.0 607.6,275.0 608.1,274.9 608.6,274.9 609.1,274.8 609.6,274.8 610.1,274.8 610.6,274.8 611.1,274.7 611.6,274.7 612.1,274.7 612.6,274.8 613.1,274.8 613.6,274.9 614.1,274.9 614.6,275.1 615.1,275.2 615.6,275.3 616.1,275.4 616.6,275.5 617.1,275.5 617.6,275.6" fill="none" stroke="#e41616" stroke-width="1.05" stroke-linejoin="round"/>
</g>
<path d="M390.95,58.00V276.95M620.05,58.00V276.95" stroke="#000" stroke-width="1.4" fill="none"/>
<path d="M390.35,58.6H620.65M390.35,276.35H620.65" stroke="#000" stroke-width="1.2" fill="none"/>
<line x1="390.95" y1="276.35" x2="390.95" y2="274.05" stroke="#000" stroke-width="1"/>
<line x1="390.95" y1="58.6" x2="390.95" y2="60.9" stroke="#000" stroke-width="1"/>
<text x="390.95" y="293.0" font-size="13.2" text-anchor="middle" fill="#111">0</text>
<line x1="429.13" y1="276.35" x2="429.13" y2="274.05" stroke="#000" stroke-width="1"/>
<line x1="429.13" y1="58.6" x2="429.13" y2="60.9" stroke="#000" stroke-width="1"/>
<text x="429.13" y="293.0" font-size="13.2" text-anchor="middle" fill="#111">1</text>
<line x1="467.32" y1="276.35" x2="467.32" y2="274.05" stroke="#000" stroke-width="1"/>
<line x1="467.32" y1="58.6" x2="467.32" y2="60.9" stroke="#000" stroke-width="1"/>
<text x="467.32" y="293.0" font-size="13.2" text-anchor="middle" fill="#111">2</text>
<line x1="505.50" y1="276.35" x2="505.50" y2="274.05" stroke="#000" stroke-width="1"/>
<line x1="505.50" y1="58.6" x2="505.50" y2="60.9" stroke="#000" stroke-width="1"/>
<text x="505.50" y="293.0" font-size="13.2" text-anchor="middle" fill="#111">3</text>
<line x1="543.68" y1="276.35" x2="543.68" y2="274.05" stroke="#000" stroke-width="1"/>
<line x1="543.68" y1="58.6" x2="543.68" y2="60.9" stroke="#000" stroke-width="1"/>
<text x="543.68" y="293.0" font-size="13.2" text-anchor="middle" fill="#111">4</text>
<line x1="581.87" y1="276.35" x2="581.87" y2="274.05" stroke="#000" stroke-width="1"/>
<line x1="581.87" y1="58.6" x2="581.87" y2="60.9" stroke="#000" stroke-width="1"/>
<text x="581.87" y="293.0" font-size="13.2" text-anchor="middle" fill="#111">5</text>
<line x1="620.05" y1="276.35" x2="620.05" y2="274.05" stroke="#000" stroke-width="1"/>
<line x1="620.05" y1="58.6" x2="620.05" y2="60.9" stroke="#000" stroke-width="1"/>
<text x="620.05" y="293.0" font-size="13.2" text-anchor="middle" fill="#111">6</text>
<line x1="390.95" y1="276.35" x2="393.25" y2="276.35" stroke="#000" stroke-width="1"/>
<line x1="620.05" y1="276.35" x2="617.75" y2="276.35" stroke="#000" stroke-width="1"/>
<text x="387.1" y="281.1" font-size="13.2" text-anchor="end" fill="#111">0</text>
<line x1="390.95" y1="221.91" x2="393.25" y2="221.91" stroke="#000" stroke-width="1"/>
<line x1="620.05" y1="221.91" x2="617.75" y2="221.91" stroke="#000" stroke-width="1"/>
<text x="387.1" y="226.6" font-size="13.2" text-anchor="end" fill="#111">75</text>
<line x1="390.95" y1="167.48" x2="393.25" y2="167.48" stroke="#000" stroke-width="1"/>
<line x1="620.05" y1="167.48" x2="617.75" y2="167.48" stroke="#000" stroke-width="1"/>
<text x="387.1" y="172.2" font-size="13.2" text-anchor="end" fill="#111">150</text>
<line x1="390.95" y1="113.04" x2="393.25" y2="113.04" stroke="#000" stroke-width="1"/>
<line x1="620.05" y1="113.04" x2="617.75" y2="113.04" stroke="#000" stroke-width="1"/>
<text x="387.1" y="117.7" font-size="13.2" text-anchor="end" fill="#111">225</text>
<line x1="390.95" y1="58.60" x2="393.25" y2="58.60" stroke="#000" stroke-width="1"/>
<line x1="620.05" y1="58.60" x2="617.75" y2="58.60" stroke="#000" stroke-width="1"/>
<text x="387.1" y="63.3" font-size="13.2" text-anchor="end" fill="#111">300</text>
<text x="505.2" y="311.0" font-size="13.8" text-anchor="middle" fill="#111">Time (sec)</text>
<text x="618.8" y="317.4" font-size="13.3" text-anchor="end" fill="#111">x 10<tspan dy="-9.2" dx="0.6" font-size="9.8">4</tspan></text>
<text transform="translate(354.9,168.0) rotate(-90)" font-size="14.1" text-anchor="middle" textLength="220" lengthAdjust="spacingAndGlyphs" fill="#111">Average Number of GFP Molecules</text>
<text x="399.3" y="88.6" font-size="13.8" textLength="9.3" lengthAdjust="spacingAndGlyphs" fill="#111">B</text>
<rect x="429.15" y="6.7" width="152.4" height="44.6" fill="#fff" stroke="#000" stroke-width="1.3"/>
<line x1="437.0" y1="15.7" x2="476.5" y2="15.7" stroke="#1c1cf5" stroke-width="1.25"/>
<text x="481.2" y="20.0" font-size="11.6" textLength="74.0" lengthAdjust="spacingAndGlyphs" fill="#111">WT /w 2000 Tc</text>
<line x1="437.0" y1="29.2" x2="476.5" y2="29.2" stroke="#148414" stroke-width="1.25"/>
<text x="481.2" y="33.5" font-size="11.6" textLength="93.6" lengthAdjust="spacingAndGlyphs" fill="#111">Des 3.1 /w 2000 Tc</text>
<line x1="437.0" y1="42.9" x2="476.5" y2="42.9" stroke="#ee2222" stroke-width="1.25"/>
<text x="481.2" y="47.2" font-size="11.6" textLength="93.6" lengthAdjust="spacingAndGlyphs" fill="#111">Des 3.2 /w 2000 Tc</text>
</g>
<g id="panelC">
<g clip-path="url(#clipC)">
<polyline points="89.6,608.9 90.1,603.4 90.6,597.9 91.1,592.4 91.6,586.8 92.1,580.5 92.6,574.3 93.1,569.2 93.6,568.5 94.1,569.1 94.6,570.9 95.1,574.2 95.6,577.4 96.1,581.0 96.6,583.9 97.1,586.7 97.6,588.4 98.1,589.2 98.6,590.0 99.1,590.8 99.6,591.7 100.1,592.5 100.6,593.4 101.1,594.3 101.6,595.4 102.1,596.5 102.6,597.6 103.1,598.7 103.6,599.9 104.1,601.2 104.6,602.4 105.1,603.2 105.6,603.5 106.1,603.9 106.6,604.3 107.1,604.6 107.6,604.9 108.1,605.1 108.6,605.4 109.1,605.7 109.6,606.0 110.1,606.2 110.6,606.4 111.1,606.7 111.6,607.1 112.1,607.3 112.6,607.3 113.1,607.3 113.6,607.3 114.1,607.4 114.6,607.3 115.1,607.3 115.6,607.3 116.1,607.4 116.6,607.4 117.1,607.4 117.6,607.5 118.1,607.6 118.6,607.6 119.1,607.6 119.6,607.7 120.1,607.6 120.6,607.6 121.1,607.7 121.6,607.7 122.1,607.8 122.6,607.8 123.1,607.8 123.6,607.8 124.1,607.9 124.6,608.0 125.1,608.0 125.6,608.1 126.1,608.1 126.6,608.0 127.1,608.0 127.6,608.0 128.1,608.0 128.6,608.1 129.1,608.2 129.6,608.3 130.1,608.3 130.6,608.3 131.1,608.3 131.6,608.3 132.1,608.2 132.6,608.2 133.1,608.2 133.6,608.2 134.1,608.1 134.6,608.1 135.1,608.1 135.6,608.1 136.1,608.0 136.6,607.9 137.1,607.9 137.6,607.9 138.1,607.9 138.6,607.9 139.1,607.9 139.6,607.8 140.1,607.8 140.6,607.8 141.1,607.7 141.6,607.5 142.1,607.4 142.6,607.2 143.1,607.1 143.6,607.0 144.1,607.0 144.6,606.8 145.1,606.8 145.6,606.7 146.1,606.7 146.6,606.6 147.1,606.6 147.6,606.5 148.1,606.6 148.6,606.6 149.1,606.7 149.6,606.6 150.1,606.7 150.6,606.7 151.1,606.7 151.6,606.8 152.1,606.8 152.6,606.7 153.1,606.7 153.6,606.8 154.1,606.8 154.6,606.8 155.1,606.8 155.6,606.7 156.1,606.8 156.6,606.8 157.1,606.9 157.6,606.9 158.1,606.8 158.6,606.7 159.1,606.7 159.6,606.7 160.1,606.7 160.6,606.8 161.1,606.8 161.6,606.8 162.1,606.8 162.6,606.7 163.1,606.6 163.6,606.7 164.1,606.8 164.6,606.7 165.1,606.7 165.6,606.7 166.1,606.6 166.6,606.5 167.1,605.9 167.6,603.7 168.1,601.5 168.6,599.2 169.1,594.9 169.6,590.2 170.1,585.3 170.6,580.5 171.1,575.9 171.6,571.1 172.1,566.3 172.6,561.2 173.1,556.5 173.6,551.4 174.1,546.8 174.6,543.2 175.1,540.0 175.6,536.8 176.1,533.6 176.6,530.4 177.1,527.6 177.6,525.1 178.1,522.7 178.6,520.3 179.1,518.2 179.6,515.7 180.1,514.2 180.6,512.8 181.1,511.7 181.6,510.7 182.1,509.4 182.6,508.7 183.1,508.9 183.6,508.5 184.1,507.5 184.6,506.9 185.1,506.5 185.6,505.7 186.1,505.2 186.6,504.4 187.1,502.9 187.6,501.4 188.1,499.9 188.6,499.0 189.1,498.7 189.6,498.9 190.1,499.3 190.6,502.1 191.1,506.9 191.6,511.7 192.1,516.2 192.6,520.8 193.1,525.7 193.6,529.2 194.1,532.3 194.6,535.4 195.1,538.9 195.6,542.4 196.1,545.6 196.6,548.6 197.1,551.6 197.6,554.4 198.1,557.2 198.6,560.1 199.1,562.4 199.6,564.6 200.1,567.1 200.6,569.8 201.1,572.3 201.6,574.4 202.1,576.3 202.6,578.5 203.1,580.6 203.6,582.6 204.1,584.4 204.6,586.0 205.1,587.4 205.6,588.9 206.1,590.2 206.6,591.5 207.1,592.7 207.6,593.6 208.1,594.5 208.6,595.5 209.1,596.4 209.6,597.2 210.1,598.0 210.6,598.9 211.1,599.7 211.6,600.0 212.1,600.4 212.6,600.8 213.1,601.2 213.6,601.5 214.1,602.0 214.6,602.4 215.1,602.8 215.6,603.1 216.1,603.4 216.6,603.7 217.1,603.9 217.6,604.2 218.1,604.5 218.6,604.7 219.1,604.9 219.6,605.2 220.1,605.4 220.6,605.6 221.1,605.9 221.6,606.1 222.1,606.2 222.6,606.3 223.1,606.4 223.6,606.6 224.1,606.7 224.6,606.9 225.1,607.1 225.6,607.3 226.1,607.3 226.6,607.3 227.1,607.4 227.6,607.5 228.1,607.6 228.6,607.7 229.1,607.8 229.6,607.9 230.1,607.9 230.6,608.1 231.1,608.1 231.6,608.0 232.1,607.9 232.6,607.8 233.1,607.8 233.6,607.7 234.1,607.7 234.6,607.6 235.1,607.7 235.6,607.7 236.1,607.7 236.6,607.6 237.1,607.5 237.6,607.5 238.1,607.4 238.6,607.3 239.1,607.3 239.6,607.3 240.1,607.2 240.6,607.1 241.1,607.0 241.6,607.0 242.1,607.0 242.6,607.0 243.1,607.1 243.6,607.0 244.1,607.0 244.6,607.0 245.1,606.9 245.6,606.9 246.1,606.8 246.6,606.8 247.1,606.7 247.6,606.7 248.1,606.7 248.6,606.6 249.1,606.6 249.6,606.7 250.1,606.6 250.6,606.6 251.1,606.5 251.6,606.5 252.1,606.4 252.6,606.4 253.1,606.5 253.6,606.5 254.1,606.4 254.6,606.3 255.1,606.3 255.6,606.5 256.1,606.6 256.6,606.5 257.1,606.5 257.6,606.6 258.1,606.8 258.6,606.9 259.1,606.9 259.6,607.0 260.1,607.1 260.6,607.1 261.1,607.2 261.6,607.2 262.1,607.1 262.6,607.0 263.1,607.1 263.6,607.1 264.1,607.2 264.6,607.1 265.1,607.0 265.6,607.0 266.1,607.1 266.6,607.2 267.1,607.1 267.6,606.9 268.1,606.9 268.6,607.0 269.1,607.0 269.6,607.0 270.1,607.1 270.6,607.1 271.1,607.1 271.6,607.1 272.1,607.1 272.6,607.1 273.1,607.2 273.6,607.2 274.1,607.2 274.6,607.2 275.1,607.2 275.6,607.1 276.1,607.2 276.6,607.2 277.1,607.2 277.6,607.1 278.1,607.2 278.6,607.2 279.1,607.2 279.6,607.2 280.1,607.2 280.6,607.3 281.1,607.3 281.6,607.3 282.1,607.3 282.6,607.3 283.1,607.4 283.6,607.4 284.1,607.5 284.6,607.5 285.1,607.5 285.6,607.5 286.1,607.5 286.6,607.5 287.1,607.5 287.6,607.5 288.1,607.5 288.6,607.5 289.1,607.5 289.6,607.6 290.1,607.6 290.6,607.6 291.1,607.5 291.6,607.5 292.1,607.6 292.6,607.6 293.1,607.7 293.6,607.7 294.1,607.7 294.6,607.8 295.1,607.8 295.6,607.9 296.1,607.8 296.6,607.8 297.1,607.8 297.6,607.9 298.1,607.9 298.6,607.9 299.1,607.8 299.6,607.8 300.1,607.8 300.6,607.9 301.1,608.0 301.6,607.8 302.1,607.7 302.6,607.6 303.1,607.6 303.6,607.7 304.1,607.7 304.6,607.8 305.1,607.7 305.6,607.6 306.1,607.6 306.6,607.6 307.1,607.5 307.6,607.5 308.1,607.6 308.6,607.6 309.1,607.4 309.6,607.3 310.1,607.3 310.6,607.2 311.1,607.2 311.6,607.0 312.1,606.8 312.6,606.6 313.1,606.4 313.6,606.4 314.1,606.1 314.6,605.9 315.1,605.7 315.6,605.6 316.1,605.6 316.6,605.4 317.1,605.3 317.6,605.1 318.1,605.1" fill="none" stroke="#1010dc" stroke-width="1.35" stroke-linejoin="round"/>
<polyline points="89.6,608.7 90.1,602.6 90.6,596.7 91.1,590.9 91.6,585.2 92.1,578.9 92.6,572.5 93.1,566.0 93.6,564.2 94.1,563.1 94.6,564.7 95.1,567.5 95.6,571.8 96.1,576.1 96.6,580.4 97.1,583.7 97.6,584.1 98.1,584.5 98.6,584.7 99.1,584.8 99.6,585.1 100.1,586.0 100.6,586.6 101.1,587.3 101.6,588.3 102.1,590.3 102.6,592.5 103.1,594.9 103.6,596.3 104.1,597.6 104.6,598.7 105.1,599.7 105.6,600.0 106.1,600.3 106.6,600.8 107.1,601.4 107.6,602.0 108.1,602.2 108.6,602.5 109.1,602.6 109.6,602.7 110.1,602.7 110.6,602.8 111.1,602.9 111.6,602.9 112.1,603.0 112.6,603.0 113.1,603.0 113.6,603.1 114.1,603.2 114.6,603.4 115.1,603.4 115.6,603.4 116.1,603.3 116.6,603.3 117.1,603.2 117.6,603.3 118.1,603.4 118.6,603.5 119.1,603.5 119.6,603.5 120.1,603.6 120.6,603.8 121.1,603.9 121.6,604.1 122.1,604.2 122.6,604.2 123.1,604.3 123.6,604.4 124.1,604.5 124.6,604.5 125.1,604.5 125.6,604.6 126.1,604.7 126.6,604.7 127.1,604.7 127.6,604.8 128.1,604.9 128.6,605.0 129.1,604.9 129.6,604.7 130.1,604.7 130.6,604.7 131.1,604.6 131.6,604.5 132.1,604.5 132.6,604.4 133.1,604.3 133.6,604.3 134.1,604.3 134.6,604.4 135.1,604.4 135.6,604.5 136.1,604.6 136.6,604.6 137.1,604.7 137.6,604.8 138.1,604.9 138.6,604.8 139.1,604.8 139.6,604.9 140.1,604.9 140.6,604.8 141.1,604.8 141.6,604.9 142.1,604.8 142.6,604.7 143.1,604.6 143.6,604.6 144.1,604.5 144.6,604.4 145.1,604.2 145.6,604.2 146.1,604.1 146.6,604.0 147.1,603.9 147.6,603.8 148.1,603.6 148.6,603.6 149.1,603.6 149.6,603.5 150.1,603.4 150.6,603.3 151.1,603.1 151.6,602.9 152.1,603.1 152.6,603.1 153.1,603.2 153.6,603.4 154.1,603.6 154.6,603.7 155.1,603.8 155.6,603.9 156.1,603.9 156.6,604.0 157.1,604.1 157.6,604.2 158.1,604.2 158.6,604.2 159.1,604.0 159.6,603.9 160.1,603.9 160.6,603.7 161.1,603.5 161.6,603.6 162.1,603.7 162.6,603.8 163.1,603.7 163.6,603.8 164.1,603.7 164.6,603.8 165.1,603.9 165.6,603.9 166.1,603.8 166.6,603.6 167.1,603.5 167.6,600.4 168.1,595.2 168.6,589.9 169.1,584.5 169.6,578.5 170.1,572.3 170.6,565.8 171.1,559.4 171.6,553.2 172.1,547.3 172.6,540.3 173.1,533.2 173.6,526.4 174.1,519.4 174.6,514.4 175.1,510.1 175.6,506.1 176.1,501.5 176.6,497.4 177.1,494.8 177.6,492.5 178.1,489.5 178.6,486.2 179.1,483.6 179.6,481.9 180.1,480.2 180.6,478.5 181.1,477.5 181.6,475.9 182.1,475.3 182.6,474.9 183.1,474.2 183.6,473.0 184.1,471.8 184.6,470.1 185.1,468.5 185.6,466.3 186.1,464.3 186.6,464.0 187.1,465.1 187.6,464.0 188.1,463.8 188.6,465.4 189.1,468.0 189.6,469.7 190.1,471.4 190.6,473.0 191.1,475.2 191.6,476.8 192.1,478.6 192.6,481.5 193.1,485.4 193.6,489.4 194.1,492.9 194.6,496.3 195.1,500.0 195.6,503.1 196.1,506.1 196.6,509.9 197.1,514.4 197.6,519.0 198.1,523.5 198.6,527.8 199.1,532.4 199.6,536.3 200.1,540.2 200.6,544.1 201.1,548.1 201.6,552.0 202.1,555.7 202.6,559.6 203.1,563.5 203.6,567.0 204.1,569.2 204.6,571.2 205.1,573.1 205.6,575.1 206.1,577.3 206.6,579.0 207.1,580.5 207.6,582.0 208.1,583.5 208.6,585.2 209.1,586.8 209.6,588.4 210.1,589.7 210.6,590.5 211.1,591.1 211.6,591.8 212.1,592.7 212.6,593.7 213.1,594.7 213.6,595.5 214.1,596.1 214.6,596.6 215.1,597.1 215.6,597.5 216.1,597.9 216.6,598.4 217.1,599.1 217.6,599.6 218.1,600.0 218.6,600.4 219.1,600.7 219.6,601.1 220.1,601.4 220.6,601.6 221.1,601.7 221.6,601.9 222.1,602.3 222.6,602.5 223.1,602.2 223.6,601.8 224.1,601.5 224.6,601.3 225.1,601.1 225.6,600.8 226.1,600.6 226.6,600.7 227.1,600.9 227.6,601.1 228.1,601.4 228.6,601.7 229.1,601.8 229.6,602.0 230.1,602.1 230.6,602.3 231.1,602.6 231.6,602.7 232.1,602.8 232.6,602.9 233.1,603.1 233.6,603.3 234.1,603.5 234.6,603.7 235.1,603.9 235.6,604.0 236.1,604.2 236.6,604.3 237.1,604.4 237.6,604.4 238.1,604.6 238.6,604.7 239.1,604.8 239.6,604.7 240.1,604.8 240.6,604.9 241.1,605.1 241.6,605.2 242.1,605.1 242.6,605.2 243.1,605.1 243.6,605.3 244.1,605.4 244.6,605.5 245.1,605.4 245.6,605.4 246.1,605.3 246.6,605.5 247.1,605.5 247.6,605.7 248.1,605.7 248.6,605.7 249.1,605.6 249.6,605.3 250.1,605.0 250.6,604.7 251.1,604.3 251.6,603.9 252.1,603.6 252.6,603.3 253.1,603.0 253.6,603.0 254.1,602.9 254.6,602.9 255.1,602.8 255.6,602.8 256.1,602.6 256.6,602.5 257.1,602.6 257.6,602.7 258.1,602.9 258.6,603.0 259.1,603.0 259.6,603.2 260.1,603.4 260.6,603.5 261.1,603.6 261.6,603.8 262.1,603.9 262.6,604.0 263.1,604.0 263.6,604.1 264.1,604.2 264.6,604.3 265.1,604.4 265.6,604.5 266.1,604.6 266.6,604.7 267.1,604.9 267.6,605.1 268.1,605.1 268.6,605.2 269.1,605.3 269.6,605.3 270.1,605.4 270.6,605.5 271.1,605.5 271.6,605.6 272.1,605.8 272.6,605.9 273.1,606.0 273.6,606.0 274.1,606.0 274.6,606.1 275.1,606.1 275.6,606.2 276.1,606.1 276.6,606.2 277.1,606.3 277.6,606.4 278.1,606.4 278.6,606.3 279.1,606.3 279.6,606.4 280.1,606.4 280.6,606.2 281.1,606.0 281.6,605.9 282.1,605.8 282.6,605.8 283.1,605.8 283.6,605.8 284.1,605.7 284.6,605.6 285.1,605.5 285.6,605.4 286.1,605.3 286.6,605.2 287.1,604.9 287.6,604.7 288.1,604.4 288.6,604.2 289.1,604.0 289.6,603.5 290.1,603.2 290.6,603.1 291.1,603.1 291.6,603.1 292.1,603.1 292.6,602.8 293.1,602.6 293.6,602.5 294.1,602.4 294.6,602.4 295.1,602.5 295.6,602.5 296.1,602.7 296.6,602.9 297.1,603.3 297.6,603.5 298.1,603.6 298.6,603.6 299.1,603.4 299.6,603.2 300.1,602.9 300.6,602.5 301.1,602.3 301.6,602.4 302.1,602.5 302.6,602.6 303.1,602.8 303.6,603.2 304.1,603.3 304.6,603.4 305.1,603.3 305.6,603.2 306.1,603.2 306.6,603.2 307.1,603.1 307.6,603.0 308.1,602.9 308.6,602.7 309.1,602.7 309.6,602.7 310.1,602.8 310.6,602.7 311.1,602.8 311.6,602.7 312.1,602.6 312.6,602.6 313.1,602.6 313.6,602.6 314.1,602.5 314.6,602.4 315.1,602.3 315.6,602.3 316.1,602.5 316.6,602.7 317.1,602.7 317.6,602.6 318.1,602.6" fill="none" stroke="#0a7a0a" stroke-width="1.05" stroke-linejoin="round"/>
<polyline points="89.6,609.0 90.1,602.4 90.6,595.8 91.1,589.4 91.6,582.9 92.1,576.3 92.6,569.5 93.1,562.7 93.6,560.2 94.1,559.1 94.6,561.3 95.1,565.2 95.6,570.1 96.1,574.7 96.6,579.1 97.1,582.5 97.6,583.1 98.1,583.3 98.6,583.6 99.1,583.9 99.6,584.2 100.1,584.8 100.6,585.4 101.1,585.9 101.6,587.1 102.1,589.2 102.6,591.4 103.1,593.6 103.6,594.8 104.1,596.0 104.6,597.4 105.1,598.1 105.6,598.1 106.1,597.9 106.6,598.0 107.1,598.3 107.6,598.4 108.1,598.8 108.6,599.1 109.1,599.7 109.6,600.2 110.1,600.8 110.6,601.3 111.1,601.1 111.6,600.8 112.1,600.4 112.6,600.0 113.1,599.7 113.6,599.3 114.1,599.1 114.6,599.1 115.1,599.4 115.6,599.4 116.1,599.5 116.6,599.6 117.1,599.9 117.6,600.1 118.1,600.3 118.6,600.3 119.1,600.4 119.6,600.4 120.1,600.5 120.6,600.8 121.1,601.0 121.6,601.0 122.1,600.9 122.6,600.8 123.1,601.1 123.6,601.2 124.1,601.1 124.6,600.9 125.1,600.8 125.6,600.8 126.1,600.6 126.6,600.4 127.1,600.4 127.6,600.4 128.1,600.5 128.6,600.7 129.1,600.8 129.6,600.7 130.1,600.8 130.6,601.0 131.1,601.3 131.6,601.4 132.1,601.4 132.6,601.4 133.1,601.4 133.6,601.5 134.1,601.7 134.6,601.7 135.1,601.8 135.6,601.8 136.1,601.8 136.6,601.8 137.1,601.7 137.6,601.7 138.1,601.6 138.6,601.7 139.1,601.6 139.6,601.4 140.1,601.2 140.6,601.1 141.1,601.1 141.6,600.9 142.1,600.7 142.6,600.9 143.1,601.1 143.6,601.3 144.1,601.5 144.6,601.6 145.1,601.8 145.6,601.9 146.1,601.8 146.6,601.7 147.1,601.5 147.6,601.2 148.1,601.1 148.6,601.1 149.1,600.9 149.6,600.7 150.1,600.9 150.6,601.4 151.1,601.7 151.6,602.1 152.1,602.4 152.6,602.7 153.1,602.9 153.6,603.2 154.1,603.6 154.6,603.8 155.1,603.8 155.6,603.7 156.1,603.6 156.6,603.6 157.1,603.7 157.6,603.7 158.1,603.7 158.6,603.7 159.1,603.5 159.6,603.3 160.1,603.1 160.6,603.1 161.1,603.0 161.6,602.7 162.1,602.3 162.6,602.0 163.1,601.8 163.6,601.7 164.1,601.6 164.6,601.5 165.1,601.4 165.6,601.3 166.1,601.4 166.6,601.2 167.1,601.0 167.6,596.8 168.1,590.0 168.6,583.3 169.1,576.1 169.6,568.8 170.1,561.7 170.6,554.8 171.1,547.5 171.6,541.7 172.1,536.3 172.6,530.8 173.1,525.3 173.6,519.9 174.1,514.8 174.6,509.3 175.1,503.6 175.6,498.4 176.1,494.2 176.6,491.5 177.1,488.5 177.6,485.2 178.1,481.7 178.6,479.4 179.1,477.2 179.6,474.2 180.1,471.2 180.6,468.9 181.1,467.6 181.6,465.8 182.1,463.7 182.6,461.7 183.1,459.8 183.6,458.8 184.1,458.8 184.6,461.4 185.1,460.8 185.6,459.3 186.1,457.5 186.6,458.3 187.1,459.3 187.6,457.6 188.1,455.3 188.6,456.2 189.1,458.6 189.6,461.3 190.1,461.3 190.6,462.6 191.1,465.1 191.6,467.8 192.1,470.2 192.6,472.0 193.1,473.9 193.6,476.8 194.1,481.0 194.6,484.8 195.1,488.5 195.6,492.2 196.1,495.6 196.6,500.2 197.1,505.3 197.6,510.6 198.1,514.9 198.6,518.8 199.1,522.3 199.6,526.5 200.1,530.4 200.6,534.7 201.1,539.0 201.6,543.0 202.1,546.6 202.6,550.4 203.1,555.1 203.6,560.1 204.1,564.6 204.6,567.0 205.1,568.5 205.6,570.5 206.1,572.3 206.6,574.0 207.1,575.4 207.6,576.9 208.1,578.3 208.6,579.6 209.1,580.7 209.6,582.0 210.1,583.2 210.6,584.3 211.1,585.6 211.6,586.5 212.1,587.5 212.6,588.3 213.1,589.2 213.6,590.0 214.1,590.9 214.6,591.7 215.1,592.3 215.6,592.7 216.1,593.1 216.6,593.4 217.1,594.0 217.6,594.4 218.1,594.7 218.6,594.9 219.1,595.3 219.6,595.7 220.1,596.1 220.6,596.5 221.1,596.9 221.6,597.4 222.1,597.5 222.6,597.6 223.1,597.7 223.6,598.0 224.1,598.1 224.6,598.2 225.1,598.4 225.6,598.6 226.1,598.6 226.6,598.7 227.1,598.6 227.6,598.5 228.1,598.3 228.6,598.2 229.1,598.2 229.6,598.3 230.1,598.1 230.6,597.8 231.1,597.7 231.6,598.1 232.1,598.4 232.6,598.7 233.1,599.1 233.6,599.6 234.1,599.9 234.6,599.9 235.1,599.9 235.6,600.1 236.1,600.4 236.6,600.7 237.1,600.8 237.6,601.1 238.1,601.3 238.6,601.5 239.1,601.7 239.6,602.0 240.1,602.2 240.6,602.5 241.1,602.8 241.6,603.1 242.1,603.4 242.6,603.3 243.1,603.0 243.6,602.7 244.1,602.5 244.6,602.2 245.1,602.1 245.6,601.8 246.1,601.6 246.6,601.2 247.1,601.2 247.6,601.0 248.1,601.0 248.6,601.1 249.1,601.4 249.6,601.6 250.1,601.7 250.6,601.4 251.1,601.0 251.6,600.7 252.1,600.6 252.6,600.7 253.1,600.8 253.6,601.0 254.1,601.3 254.6,601.5 255.1,601.2 255.6,601.1 256.1,600.9 256.6,600.7 257.1,600.4 257.6,600.0 258.1,599.8 258.6,599.7 259.1,599.4 259.6,599.3 260.1,599.0 260.6,598.8 261.1,598.5 261.6,598.6 262.1,598.4 262.6,598.3 263.1,598.4 263.6,598.6 264.1,598.8 264.6,599.1 265.1,599.5 265.6,599.7 266.1,600.0 266.6,600.2 267.1,600.5 267.6,601.0 268.1,601.4 268.6,601.8 269.1,602.0 269.6,602.2 270.1,602.4 270.6,602.9 271.1,602.9 271.6,602.8 272.1,602.7 272.6,602.4 273.1,602.2 273.6,602.0 274.1,601.8 274.6,601.7 275.1,601.6 275.6,601.3 276.1,600.9 276.6,600.6 277.1,600.1 277.6,599.7 278.1,599.4 278.6,599.6 279.1,599.9 279.6,600.2 280.1,600.4 280.6,600.7 281.1,600.9 281.6,601.0 282.1,601.2 282.6,601.5 283.1,601.7 283.6,601.9 284.1,601.9 284.6,602.0 285.1,602.0 285.6,602.2 286.1,602.4 286.6,602.8 287.1,602.9 287.6,603.1 288.1,603.2 288.6,603.4 289.1,603.6 289.6,603.8 290.1,603.7 290.6,603.6 291.1,603.2 291.6,603.0 292.1,602.9 292.6,602.9 293.1,602.6 293.6,602.5 294.1,602.2 294.6,602.2 295.1,602.1 295.6,602.1 296.1,602.1 296.6,602.0 297.1,601.8 297.6,601.7 298.1,601.4 298.6,601.6 299.1,601.8 299.6,602.3 300.1,602.5 300.6,602.7 301.1,602.6 301.6,602.6 302.1,602.8 302.6,602.9 303.1,602.8 303.6,602.4 304.1,602.0 304.6,601.6 305.1,601.3 305.6,601.4 306.1,601.5 306.6,601.5 307.1,601.6 307.6,601.8 308.1,602.1 308.6,602.4 309.1,602.7 309.6,602.7 310.1,602.5 310.6,602.2 311.1,602.1 311.6,602.0 312.1,602.2 312.6,602.3 313.1,602.5 313.6,602.6 314.1,602.8 314.6,602.9 315.1,602.8 315.6,602.6 316.1,602.6 316.6,602.5 317.1,602.5 317.6,602.3 318.1,602.3" fill="none" stroke="#e41616" stroke-width="1.05" stroke-linejoin="round"/>
</g>
<path d="M89.1,401.90V609.90M318.25,401.90V609.90" stroke="#000" stroke-width="1.4" fill="none"/>
<path d="M88.50,402.5H318.85M88.50,609.3H318.85" stroke="#000" stroke-width="1.2" fill="none"/>
<line x1="89.10" y1="609.3" x2="89.10" y2="607.0" stroke="#000" stroke-width="1"/>
<line x1="89.10" y1="402.5" x2="89.10" y2="404.8" stroke="#000" stroke-width="1"/>
<text x="89.10" y="625.9" font-size="13.2" text-anchor="middle" fill="#111">0</text>
<line x1="127.29" y1="609.3" x2="127.29" y2="607.0" stroke="#000" stroke-width="1"/>
<line x1="127.29" y1="402.5" x2="127.29" y2="404.8" stroke="#000" stroke-width="1"/>
<text x="127.29" y="625.9" font-size="13.2" text-anchor="middle" fill="#111">1</text>
<line x1="165.48" y1="609.3" x2="165.48" y2="607.0" stroke="#000" stroke-width="1"/>
<line x1="165.48" y1="402.5" x2="165.48" y2="404.8" stroke="#000" stroke-width="1"/>
<text x="165.48" y="625.9" font-size="13.2" text-anchor="middle" fill="#111">2</text>
<line x1="203.68" y1="609.3" x2="203.68" y2="607.0" stroke="#000" stroke-width="1"/>
<line x1="203.68" y1="402.5" x2="203.68" y2="404.8" stroke="#000" stroke-width="1"/>
<text x="203.68" y="625.9" font-size="13.2" text-anchor="middle" fill="#111">3</text>
<line x1="241.87" y1="609.3" x2="241.87" y2="607.0" stroke="#000" stroke-width="1"/>
<line x1="241.87" y1="402.5" x2="241.87" y2="404.8" stroke="#000" stroke-width="1"/>
<text x="241.87" y="625.9" font-size="13.2" text-anchor="middle" fill="#111">4</text>
<line x1="280.06" y1="609.3" x2="280.06" y2="607.0" stroke="#000" stroke-width="1"/>
<line x1="280.06" y1="402.5" x2="280.06" y2="404.8" stroke="#000" stroke-width="1"/>
<text x="280.06" y="625.9" font-size="13.2" text-anchor="middle" fill="#111">5</text>
<line x1="318.25" y1="609.3" x2="318.25" y2="607.0" stroke="#000" stroke-width="1"/>
<line x1="318.25" y1="402.5" x2="318.25" y2="404.8" stroke="#000" stroke-width="1"/>
<text x="318.25" y="625.9" font-size="13.2" text-anchor="middle" fill="#111">6</text>
<line x1="89.1" y1="609.30" x2="91.39999999999999" y2="609.30" stroke="#000" stroke-width="1"/>
<line x1="318.25" y1="609.30" x2="315.95" y2="609.30" stroke="#000" stroke-width="1"/>
<text x="85.2" y="614.0" font-size="13.2" text-anchor="end" fill="#111">0</text>
<line x1="89.1" y1="557.60" x2="91.39999999999999" y2="557.60" stroke="#000" stroke-width="1"/>
<line x1="318.25" y1="557.60" x2="315.95" y2="557.60" stroke="#000" stroke-width="1"/>
<text x="85.2" y="562.3" font-size="13.2" text-anchor="end" fill="#111">75</text>
<line x1="89.1" y1="505.90" x2="91.39999999999999" y2="505.90" stroke="#000" stroke-width="1"/>
<line x1="318.25" y1="505.90" x2="315.95" y2="505.90" stroke="#000" stroke-width="1"/>
<text x="85.2" y="510.6" font-size="13.2" text-anchor="end" fill="#111">150</text>
<line x1="89.1" y1="454.20" x2="91.39999999999999" y2="454.20" stroke="#000" stroke-width="1"/>
<line x1="318.25" y1="454.20" x2="315.95" y2="454.20" stroke="#000" stroke-width="1"/>
<text x="85.2" y="458.9" font-size="13.2" text-anchor="end" fill="#111">225</text>
<line x1="89.1" y1="402.50" x2="91.39999999999999" y2="402.50" stroke="#000" stroke-width="1"/>
<line x1="318.25" y1="402.50" x2="315.95" y2="402.50" stroke="#000" stroke-width="1"/>
<text x="85.2" y="407.2" font-size="13.2" text-anchor="end" fill="#111">300</text>
<text x="203.4" y="643.9" font-size="13.8" text-anchor="middle" fill="#111">Time (sec)</text>
<text x="317.1" y="650.3" font-size="13.3" text-anchor="end" fill="#111">x 10<tspan dy="-9.2" dx="0.6" font-size="9.8">4</tspan></text>
<text transform="translate(53.7,506.4) rotate(-90)" font-size="14.1" text-anchor="middle" textLength="220" lengthAdjust="spacingAndGlyphs" fill="#111">Average Number of GFP Molecules</text>
<text x="97.5" y="430.4" font-size="13.8" textLength="9.3" lengthAdjust="spacingAndGlyphs" fill="#111">C</text>
<rect x="127.5" y="350.4" width="152.4" height="44.5" fill="#fff" stroke="#000" stroke-width="1.3"/>
<line x1="135.2" y1="358.7" x2="174.9" y2="358.7" stroke="#1c1cf5" stroke-width="1.55"/>
<text x="179.6" y="363.0" font-size="11.6" textLength="74.0" lengthAdjust="spacingAndGlyphs" fill="#111">WT /w 2000 Tc</text>
<line x1="135.2" y1="372.6" x2="174.9" y2="372.6" stroke="#148414" stroke-width="1.25"/>
<text x="179.6" y="376.9" font-size="11.6" textLength="93.6" lengthAdjust="spacingAndGlyphs" fill="#111">Des 3.3 /w 2000 Tc</text>
<line x1="135.2" y1="386.3" x2="174.9" y2="386.3" stroke="#ee2222" stroke-width="1.25"/>
<text x="179.6" y="390.6" font-size="11.6" textLength="93.6" lengthAdjust="spacingAndGlyphs" fill="#111">Des 3.4 /w 2000 Tc</text>
</g>
<g id="panelD">
<g clip-path="url(#clipD)">
<polyline points="391.1,608.8 391.6,603.3 392.1,597.9 392.6,592.3 393.1,586.6 393.6,580.2 394.1,573.7 394.6,568.1 395.1,567.1 395.6,567.8 396.1,569.6 396.6,573.1 397.1,576.7 397.6,580.5 398.1,584.2 398.6,587.7 399.1,589.4 399.6,589.9 400.1,590.6 400.6,591.1 401.1,591.6 401.6,592.2 402.1,592.9 402.6,593.7 403.1,594.4 403.6,595.6 404.1,596.7 404.6,597.7 405.1,598.6 405.6,599.2 406.1,599.7 406.6,600.0 407.1,600.5 407.6,601.0 408.1,601.5 408.6,601.9 409.1,602.2 409.6,602.5 410.1,602.8 410.6,603.0 411.1,603.3 411.6,603.6 412.1,603.8 412.6,603.9 413.1,604.0 413.6,604.2 414.1,604.4 414.6,604.5 415.1,604.7 415.6,604.9 416.1,604.9 416.6,605.0 417.1,605.2 417.6,605.4 418.1,605.5 418.6,605.6 419.1,605.7 419.6,605.8 420.1,605.9 420.6,606.0 421.1,606.1 421.6,606.2 422.1,606.3 422.6,606.3 423.1,606.3 423.6,606.3 424.1,606.4 424.6,606.5 425.1,606.5 425.6,606.5 426.1,606.5 426.6,606.5 427.1,606.5 427.6,606.4 428.1,606.4 428.6,606.3 429.1,606.3 429.6,606.3 430.1,606.2 430.6,606.1 431.1,606.0 431.6,605.9 432.1,606.0 432.6,606.2 433.1,606.4 433.6,606.4 434.1,606.5 434.6,606.6 435.1,606.6 435.6,606.7 436.1,606.9 436.6,607.1 437.1,607.2 437.6,607.2 438.1,607.2 438.6,607.2 439.1,607.2 439.6,607.2 440.1,607.2 440.6,607.1 441.1,607.1 441.6,607.1 442.1,607.2 442.6,607.2 443.1,607.1 443.6,607.2 444.1,607.2 444.6,607.2 445.1,607.2 445.6,607.1 446.1,607.0 446.6,606.9 447.1,607.0 447.6,607.0 448.1,607.0 448.6,606.9 449.1,606.9 449.6,606.9 450.1,606.8 450.6,606.8 451.1,606.8 451.6,606.8 452.1,606.9 452.6,606.9 453.1,606.9 453.6,606.9 454.1,607.0 454.6,607.1 455.1,607.2 455.6,607.2 456.1,607.3 456.6,607.3 457.1,607.4 457.6,607.5 458.1,607.4 458.6,607.5 459.1,607.4 459.6,607.5 460.1,607.4 460.6,607.3 461.1,607.2 461.6,607.1 462.1,607.1 462.6,607.1 463.1,607.0 463.6,607.0 464.1,607.0 464.6,606.9 465.1,606.8 465.6,606.8 466.1,607.0 466.6,607.1 467.1,607.3 467.6,607.3 468.1,607.5 468.6,607.1 469.1,606.4 469.6,605.6 470.1,604.8 470.6,604.1 471.1,603.3 471.6,601.6 472.1,599.9 472.6,598.2 473.1,596.1 473.6,593.4 474.1,590.8 474.6,588.1 475.1,585.5 475.6,583.1 476.1,581.2 476.6,579.0 477.1,576.7 477.6,574.7 478.1,572.9 478.6,571.3 479.1,569.8 479.6,568.1 480.1,566.5 480.6,564.7 481.1,563.3 481.6,561.5 482.1,559.7 482.6,557.8 483.1,556.1 483.6,554.3 484.1,552.5 484.6,550.9 485.1,548.6 485.6,545.9 486.1,543.9 486.6,543.0 487.1,541.9 487.6,541.0 488.1,541.9 488.6,542.0 489.1,541.2 489.6,541.8 490.1,542.6 490.6,544.1 491.1,545.5 491.6,546.7 492.1,547.4 492.6,548.1 493.1,548.6 493.6,549.2 494.1,549.5 494.6,551.1 495.1,552.7 495.6,554.9 496.1,557.0 496.6,559.2 497.1,561.5 497.6,563.8 498.1,566.2 498.6,568.4 499.1,570.2 499.6,571.8 500.1,573.8 500.6,575.8 501.1,577.5 501.6,579.1 502.1,581.0 502.6,582.8 503.1,584.5 503.6,586.1 504.1,587.6 504.6,588.9 505.1,590.2 505.6,591.4 506.1,592.7 506.6,593.7 507.1,594.6 507.6,595.4 508.1,596.0 508.6,596.8 509.1,597.7 509.6,598.1 510.1,598.5 510.6,599.0 511.1,599.3 511.6,599.6 512.1,599.9 512.6,600.3 513.1,600.7 513.6,601.0 514.1,601.3 514.6,601.7 515.1,602.0 515.6,602.3 516.1,602.6 516.6,603.0 517.1,603.2 517.6,603.4 518.1,603.5 518.6,603.7 519.1,604.0 519.6,604.3 520.1,604.4 520.6,604.4 521.1,604.7 521.6,604.9 522.1,605.2 522.6,605.3 523.1,605.5 523.6,605.6 524.1,605.8 524.6,605.9 525.1,606.0 525.6,606.1 526.1,606.3 526.6,606.4 527.1,606.5 527.6,606.6 528.1,606.7 528.6,606.7 529.1,606.7 529.6,606.6 530.1,606.6 530.6,606.5 531.1,606.4 531.6,606.4 532.1,606.4 532.6,606.3 533.1,606.2 533.6,606.0 534.1,605.9 534.6,605.9 535.1,605.8 535.6,605.6 536.1,605.5 536.6,605.3 537.1,605.2 537.6,605.0 538.1,604.8 538.6,604.7 539.1,604.8 539.6,604.9 540.1,604.9 540.6,605.0 541.1,605.0 541.6,605.2 542.1,605.2 542.6,605.3 543.1,605.3 543.6,605.4 544.1,605.5 544.6,605.6 545.1,605.8 545.6,605.9 546.1,606.0 546.6,606.0 547.1,606.1 547.6,606.2 548.1,606.3 548.6,606.4 549.1,606.4 549.6,606.4 550.1,606.5 550.6,606.5 551.1,606.6 551.6,606.7 552.1,606.8 552.6,606.8 553.1,606.9 553.6,606.9 554.1,607.0 554.6,607.1 555.1,607.2 555.6,607.2 556.1,607.2 556.6,607.2 557.1,607.1 557.6,607.1 558.1,607.1 558.6,607.0 559.1,607.0 559.6,606.9 560.1,606.9 560.6,606.9 561.1,606.8 561.6,606.8 562.1,606.9 562.6,606.9 563.1,606.9 563.6,606.8 564.1,606.8 564.6,606.7 565.1,606.7 565.6,606.7 566.1,606.7 566.6,606.7 567.1,606.6 567.6,606.6 568.1,606.5 568.6,606.5 569.1,606.5 569.6,606.5 570.1,606.4 570.6,606.3 571.1,606.3 571.6,606.4 572.1,606.5 572.6,606.5 573.1,606.5 573.6,606.5 574.1,606.6 574.6,606.7 575.1,606.8 575.6,606.8 576.1,606.9 576.6,607.0 577.1,607.0 577.6,607.1 578.1,607.1 578.6,607.1 579.1,607.1 579.6,607.1 580.1,607.0 580.6,607.0 581.1,607.1 581.6,607.2 582.1,607.2 582.6,607.2 583.1,607.3 583.6,607.3 584.1,607.2 584.6,607.2 585.1,607.2 585.6,607.1 586.1,607.1 586.6,607.1 587.1,607.1 587.6,607.1 588.1,607.1 588.6,607.1 589.1,606.9 589.6,606.9 590.1,607.0 590.6,606.9 591.1,606.8 591.6,606.7 592.1,606.8 592.6,606.9 593.1,606.9 593.6,607.0 594.1,606.9 594.6,607.0 595.1,607.0 595.6,607.1 596.1,607.1 596.6,607.1 597.1,607.1 597.6,607.1 598.1,607.1 598.6,607.3 599.1,607.3 599.6,607.3 600.1,607.3 600.6,607.3 601.1,607.3 601.6,607.2 602.1,607.2 602.6,607.1 603.1,607.2 603.6,607.1 604.1,607.1 604.6,607.0 605.1,607.0 605.6,607.0 606.1,607.0 606.6,606.8 607.1,606.8 607.6,606.9 608.1,606.9 608.6,606.8 609.1,606.8 609.6,606.9 610.1,607.0 610.6,607.0 611.1,607.0 611.6,607.0 612.1,607.1 612.6,607.0 613.1,606.9 613.6,606.9 614.1,607.0 614.6,607.0 615.1,606.9 615.6,606.8 616.1,606.7 616.6,606.7 617.1,606.7 617.6,606.6 618.1,606.7 618.6,606.6 619.1,606.6 619.6,606.6" fill="none" stroke="#1010dc" stroke-width="1.35" stroke-linejoin="round"/>
<polyline points="391.1,608.8 391.6,604.4 392.1,600.0 392.6,595.6 393.1,591.3 393.6,587.2 394.1,583.2 394.6,579.1 395.1,578.5 395.6,578.2 396.1,579.6 396.6,582.4 397.1,585.4 397.6,587.9 398.1,590.0 398.6,592.0 399.1,593.9 399.6,594.6 400.1,595.4 400.6,596.0 401.1,596.8 401.6,597.6 402.1,598.7 402.6,599.7 403.1,600.7 403.6,601.7 404.1,602.3 404.6,602.8 405.1,603.2 405.6,603.8 406.1,604.2 406.6,604.5 407.1,604.8 407.6,605.0 408.1,605.2 408.6,605.5 409.1,605.8 409.6,606.1 410.1,606.3 410.6,606.5 411.1,606.7 411.6,607.0 412.1,607.3 412.6,607.5 413.1,607.7 413.6,607.8 414.1,607.9 414.6,607.9 415.1,608.0 415.6,608.1 416.1,608.2 416.6,608.3 417.1,608.3 417.6,608.4 418.1,608.4 418.6,608.5 419.1,608.5 419.6,608.6 420.1,608.7 420.6,608.8 421.1,608.8 421.6,608.8 422.1,608.7 422.6,608.8 423.1,608.8 423.6,608.9 424.1,608.9 424.6,608.8 425.1,608.8 425.6,608.8 426.1,608.8 426.6,608.8 427.1,608.8 427.6,608.8 428.1,608.8 428.6,608.7 429.1,608.8 429.6,608.8 430.1,608.8 430.6,608.8 431.1,608.8 431.6,608.8 432.1,608.8 432.6,608.8 433.1,608.8 433.6,608.8 434.1,608.8 434.6,608.8 435.1,608.8 435.6,608.8 436.1,608.8 436.6,608.8 437.1,608.8 437.6,608.9 438.1,608.9 438.6,608.9 439.1,608.9 439.6,608.8 440.1,608.8 440.6,608.8 441.1,608.8 441.6,608.8 442.1,608.8 442.6,608.8 443.1,608.8 443.6,608.8 444.1,608.8 444.6,608.8 445.1,608.8 445.6,608.8 446.1,608.7 446.6,608.7 447.1,608.7 447.6,608.7 448.1,608.7 448.6,608.6 449.1,608.7 449.6,608.7 450.1,608.7 450.6,608.7 451.1,608.7 451.6,608.7 452.1,608.7 452.6,608.8 453.1,608.8 453.6,608.8 454.1,608.9 454.6,608.9 455.1,608.9 455.6,608.9 456.1,608.9 456.6,608.9 457.1,608.9 457.6,608.9 458.1,608.9 458.6,608.9 459.1,608.9 459.6,608.9 460.1,608.8 460.6,608.8 461.1,608.8 461.6,608.8 462.1,608.8 462.6,608.8 463.1,608.8 463.6,608.8 464.1,608.8 464.6,608.9 465.1,608.9 465.6,608.9 466.1,608.8 466.6,608.8 467.1,608.9 467.6,608.9 468.1,608.9 468.6,608.9 469.1,608.9 469.6,608.8 470.1,608.8 470.6,608.8 471.1,608.8 471.6,608.8 472.1,608.8 472.6,608.8 473.1,608.7 473.6,608.1 474.1,607.5 474.6,606.9 475.1,606.3 475.6,605.7 476.1,605.0 476.6,604.4 477.1,603.7 477.6,603.0 478.1,602.2 478.6,601.5 479.1,601.1 479.6,600.6 480.1,600.1 480.6,599.6 481.1,599.1 481.6,598.6 482.1,598.1 482.6,597.6 483.1,597.3 483.6,597.0 484.1,596.7 484.6,596.4 485.1,596.2 485.6,595.9 486.1,595.6 486.6,595.4 487.1,595.4 487.6,595.3 488.1,595.1 488.6,594.8 489.1,594.6 489.6,595.0 490.1,595.4 490.6,595.8 491.1,596.3 491.6,596.8 492.1,597.3 492.6,597.9 493.1,598.4 493.6,599.0 494.1,599.5 494.6,600.1 495.1,600.7 495.6,601.3 496.1,601.7 496.6,602.1 497.1,602.5 497.6,602.8 498.1,603.1 498.6,603.5 499.1,603.8 499.6,604.1 500.1,604.5 500.6,604.9 501.1,605.2 501.6,605.6 502.1,606.0 502.6,606.3 503.1,606.6 503.6,607.0 504.1,607.4 504.6,607.7 505.1,608.1 505.6,608.2 506.1,608.3 506.6,608.3 507.1,608.4 507.6,608.4 508.1,608.5 508.6,608.5 509.1,608.6 509.6,608.6 510.1,608.6 510.6,608.7 511.1,608.7 511.6,608.8 512.1,608.8 512.6,608.8 513.1,608.8 513.6,608.8 514.1,608.8 514.6,608.8 515.1,608.8 515.6,608.8 516.1,608.8 516.6,608.8 517.1,608.8 517.6,608.8 518.1,608.8 518.6,608.8 519.1,608.8 519.6,608.8 520.1,608.7 520.6,608.7 521.1,608.7 521.6,608.7 522.1,608.7 522.6,608.7 523.1,608.7 523.6,608.7 524.1,608.8 524.6,608.8 525.1,608.8 525.6,608.9 526.1,608.9 526.6,608.9 527.1,608.9 527.6,608.9 528.1,609.0 528.6,609.0 529.1,609.1 529.6,609.0 530.1,609.0 530.6,609.0 531.1,609.0 531.6,609.0 532.1,609.0 532.6,609.0 533.1,608.9 533.6,608.9 534.1,608.9 534.6,608.9 535.1,608.9 535.6,608.9 536.1,608.9 536.6,608.9 537.1,608.9 537.6,608.8 538.1,608.8 538.6,608.8 539.1,608.8 539.6,608.8 540.1,608.8 540.6,608.8 541.1,608.8 541.6,608.8 542.1,608.8 542.6,608.9 543.1,608.9 543.6,608.9 544.1,608.9 544.6,608.8 545.1,608.8 545.6,608.8 546.1,608.8 546.6,608.8 547.1,608.8 547.6,608.7 548.1,608.7 548.6,608.8 549.1,608.8 549.6,608.8 550.1,608.8 550.6,608.8 551.1,608.8 551.6,608.8 552.1,608.8 552.6,608.8 553.1,608.8 553.6,608.8 554.1,608.8 554.6,608.8 555.1,608.8 555.6,608.8 556.1,608.8 556.6,608.8 557.1,608.8 557.6,608.8 558.1,608.9 558.6,608.9 559.1,608.9 559.6,608.8 560.1,608.8 560.6,608.8 561.1,608.8 561.6,608.8 562.1,608.8 562.6,608.8 563.1,608.8 563.6,608.8 564.1,608.8 564.6,608.8 565.1,608.8 565.6,608.8 566.1,608.7 566.6,608.8 567.1,608.8 567.6,608.8 568.1,608.8 568.6,608.7 569.1,608.7 569.6,608.8 570.1,608.7 570.6,608.7 571.1,608.8 571.6,608.8 572.1,608.8 572.6,608.8 573.1,608.7 573.6,608.7 574.1,608.8 574.6,608.8 575.1,608.8 575.6,608.8 576.1,608.8 576.6,608.8 577.1,608.9 577.6,608.9 578.1,608.8 578.6,608.8 579.1,608.9 579.6,608.9 580.1,608.9 580.6,608.9 581.1,608.9 581.6,608.9 582.1,608.9 582.6,608.8 583.1,608.8 583.6,608.8 584.1,608.8 584.6,608.9 585.1,608.8 585.6,608.8 586.1,608.8 586.6,608.8 587.1,608.8 587.6,608.8 588.1,608.8 588.6,608.8 589.1,608.8 589.6,608.8 590.1,608.8 590.6,608.8 591.1,608.7 591.6,608.8 592.1,608.8 592.6,608.8 593.1,608.8 593.6,608.7 594.1,608.7 594.6,608.7 595.1,608.7 595.6,608.7 596.1,608.7 596.6,608.7 597.1,608.7 597.6,608.8 598.1,608.7 598.6,608.7 599.1,608.7 599.6,608.7 600.1,608.7 600.6,608.7 601.1,608.7 601.6,608.7 602.1,608.7 602.6,608.7 603.1,608.7 603.6,608.7 604.1,608.7 604.6,608.7 605.1,608.7 605.6,608.7 606.1,608.7 606.6,608.7 607.1,608.7 607.6,608.7 608.1,608.7 608.6,608.7 609.1,608.7 609.6,608.7 610.1,608.8 610.6,608.8 611.1,608.8 611.6,608.8 612.1,608.8 612.6,608.8 613.1,608.8 613.6,608.8 614.1,608.8 614.6,608.8 615.1,608.8 615.6,608.8 616.1,608.8 616.6,608.8 617.1,608.8 617.6,608.8 618.1,608.8 618.6,608.8" fill="none" stroke="#0a7a0a" stroke-width="1.05" stroke-linejoin="round"/>
<polyline points="391.1,608.9 391.6,602.6 392.1,596.4 392.6,590.1 393.1,583.6 393.6,576.7 394.1,570.1 394.6,563.6 395.1,562.6 395.6,562.2 396.1,563.9 396.6,568.1 397.1,573.0 397.6,577.5 398.1,582.0 398.6,586.2 399.1,588.2 399.6,588.7 400.1,589.3 400.6,589.7 401.1,590.0 401.6,590.4 402.1,591.1 402.6,591.8 403.1,592.5 403.6,594.4 404.1,596.4 404.6,598.5 405.1,600.0 405.6,600.5 406.1,601.1 406.6,601.6 407.1,602.3 407.6,602.7 408.1,603.0 408.6,603.3 409.1,603.6 409.6,603.9 410.1,604.2 410.6,604.8 411.1,605.3 411.6,605.8 412.1,606.2 412.6,606.8 413.1,607.2 413.6,607.4 414.1,607.5 414.6,607.7 415.1,607.8 415.6,608.0 416.1,608.1 416.6,608.3 417.1,608.3 417.6,608.3 418.1,608.4 418.6,608.4 419.1,608.5 419.6,608.5 420.1,608.5 420.6,608.5 421.1,608.5 421.6,608.5 422.1,608.5 422.6,608.6 423.1,608.6 423.6,608.6 424.1,608.6 424.6,608.6 425.1,608.6 425.6,608.6 426.1,608.7 426.6,608.7 427.1,608.7 427.6,608.7 428.1,608.7 428.6,608.7 429.1,608.7 429.6,608.6 430.1,608.6 430.6,608.6 431.1,608.7 431.6,608.7 432.1,608.7 432.6,608.6 433.1,608.7 433.6,608.7 434.1,608.7 434.6,608.7 435.1,608.7 435.6,608.7 436.1,608.7 436.6,608.7 437.1,608.7 437.6,608.7 438.1,608.7 438.6,608.7 439.1,608.7 439.6,608.8 440.1,608.8 440.6,608.8 441.1,608.8 441.6,608.8 442.1,608.8 442.6,608.7 443.1,608.7 443.6,608.7 444.1,608.7 444.6,608.7 445.1,608.7 445.6,608.7 446.1,608.7 446.6,608.7 447.1,608.7 447.6,608.6 448.1,608.6 448.6,608.6 449.1,608.6 449.6,608.7 450.1,608.7 450.6,608.7 451.1,608.7 451.6,608.7 452.1,608.7 452.6,608.7 453.1,608.7 453.6,608.7 454.1,608.8 454.6,608.8 455.1,608.8 455.6,608.8 456.1,608.8 456.6,608.8 457.1,608.7 457.6,608.7 458.1,608.7 458.6,608.7 459.1,608.7 459.6,608.7 460.1,608.7 460.6,608.7 461.1,608.7 461.6,608.7 462.1,608.7 462.6,608.7 463.1,608.7 463.6,608.7 464.1,608.7 464.6,608.8 465.1,608.8 465.6,608.8 466.1,608.8 466.6,608.8 467.1,608.8 467.6,608.8 468.1,608.8 468.6,608.8 469.1,608.7 469.6,608.7 470.1,608.7 470.6,608.7 471.1,608.7 471.6,608.1 472.1,607.5 472.6,606.9 473.1,606.3 473.6,605.8 474.1,605.1 474.6,604.4 475.1,603.5 475.6,602.9 476.1,602.2 476.6,601.4 477.1,600.6 477.6,599.9 478.1,599.3 478.6,598.8 479.1,598.3 479.6,597.8 480.1,597.3 480.6,596.7 481.1,596.3 481.6,595.7 482.1,595.2 482.6,594.7 483.1,594.2 483.6,593.7 484.1,593.2 484.6,593.2 485.1,594.0 485.6,594.4 486.1,594.6 486.6,594.6 487.1,594.5 487.6,594.1 488.1,593.9 488.6,593.8 489.1,593.7 489.6,594.0 490.1,594.6 490.6,595.2 491.1,595.8 491.6,596.3 492.1,596.9 492.6,597.3 493.1,597.9 493.6,598.3 494.1,598.9 494.6,599.4 495.1,600.0 495.6,600.4 496.1,600.7 496.6,601.1 497.1,601.6 497.6,602.0 498.1,602.5 498.6,602.9 499.1,603.3 499.6,603.7 500.1,604.1 500.6,604.5 501.1,604.7 501.6,604.9 502.1,605.1 502.6,605.2 503.1,605.4 503.6,605.7 504.1,605.9 504.6,606.1 505.1,606.2 505.6,606.5 506.1,606.7 506.6,606.9 507.1,607.0 507.6,607.1 508.1,607.2 508.6,607.3 509.1,607.5 509.6,607.6 510.1,607.7 510.6,607.9 511.1,608.0 511.6,608.1 512.1,608.2 512.6,608.3 513.1,608.3 513.6,608.3 514.1,608.3 514.6,608.4 515.1,608.5 515.6,608.5 516.1,608.5 516.6,608.5 517.1,608.5 517.6,608.5 518.1,608.6 518.6,608.6 519.1,608.7 519.6,608.7 520.1,608.7 520.6,608.7 521.1,608.7 521.6,608.7 522.1,608.7 522.6,608.7 523.1,608.8 523.6,608.8 524.1,608.8 524.6,608.8 525.1,608.8 525.6,608.8 526.1,608.8 526.6,608.8 527.1,608.8 527.6,608.8 528.1,608.8 528.6,608.8 529.1,608.8 529.6,608.8 530.1,608.8 530.6,608.8 531.1,608.8 531.6,608.8 532.1,608.8 532.6,608.8 533.1,608.8 533.6,608.7 534.1,608.7 534.6,608.7 535.1,608.7 535.6,608.7 536.1,608.7 536.6,608.7 537.1,608.7 537.6,608.7 538.1,608.8 538.6,608.8 539.1,608.8 539.6,608.7 540.1,608.8 540.6,608.8 541.1,608.8 541.6,608.8 542.1,608.8 542.6,608.8 543.1,608.8 543.6,608.7 544.1,608.7 544.6,608.7 545.1,608.7 545.6,608.7 546.1,608.7 546.6,608.6 547.1,608.6 547.6,608.6 548.1,608.6 548.6,608.6 549.1,608.6 549.6,608.6 550.1,608.6 550.6,608.6 551.1,608.5 551.6,608.6 552.1,608.6 552.6,608.6 553.1,608.5 553.6,608.5 554.1,608.5 554.6,608.6 555.1,608.6 555.6,608.6 556.1,608.6 556.6,608.6 557.1,608.7 557.6,608.7 558.1,608.7 558.6,608.8 559.1,608.9 559.6,608.9 560.1,608.9 560.6,608.9 561.1,608.9 561.6,608.9 562.1,608.8 562.6,608.8 563.1,608.8 563.6,608.8 564.1,608.8 564.6,608.7 565.1,608.7 565.6,608.8 566.1,608.8 566.6,608.7 567.1,608.7 567.6,608.6 568.1,608.6 568.6,608.6 569.1,608.6 569.6,608.6 570.1,608.6 570.6,608.5 571.1,608.5 571.6,608.5 572.1,608.5 572.6,608.5 573.1,608.5 573.6,608.5 574.1,608.5 574.6,608.5 575.1,608.5 575.6,608.5 576.1,608.5 576.6,608.5 577.1,608.6 577.6,608.6 578.1,608.6 578.6,608.6 579.1,608.6 579.6,608.6 580.1,608.6 580.6,608.6 581.1,608.6 581.6,608.6 582.1,608.6 582.6,608.6 583.1,608.6 583.6,608.6 584.1,608.6 584.6,608.7 585.1,608.6 585.6,608.6 586.1,608.7 586.6,608.7 587.1,608.7 587.6,608.7 588.1,608.7 588.6,608.7 589.1,608.7 589.6,608.7 590.1,608.7 590.6,608.7 591.1,608.7 591.6,608.8 592.1,608.8 592.6,608.8 593.1,608.8 593.6,608.8 594.1,608.9 594.6,608.9 595.1,608.8 595.6,608.8 596.1,608.8 596.6,608.8 597.1,608.9 597.6,608.9 598.1,608.8 598.6,608.8 599.1,608.8 599.6,608.8 600.1,608.8 600.6,608.8 601.1,608.8 601.6,608.8 602.1,608.8 602.6,608.7 603.1,608.7 603.6,608.7 604.1,608.7 604.6,608.7 605.1,608.7 605.6,608.7 606.1,608.7 606.6,608.7 607.1,608.6 607.6,608.6 608.1,608.6 608.6,608.7 609.1,608.7 609.6,608.7 610.1,608.6 610.6,608.7 611.1,608.7 611.6,608.7 612.1,608.7 612.6,608.7 613.1,608.7 613.6,608.8" fill="none" stroke="#e41616" stroke-width="1.05" stroke-linejoin="round"/>
</g>
<path d="M390.95,401.90V609.90M620.05,401.90V609.90" stroke="#000" stroke-width="1.4" fill="none"/>
<path d="M390.35,402.5H620.65M390.35,609.3H620.65" stroke="#000" stroke-width="1.2" fill="none"/>
<line x1="414.5" y1="609.05" x2="471.5" y2="609.05" stroke="#8a0000" stroke-width="1.7"/>
<line x1="518.5" y1="609.05" x2="619.55" y2="609.05" stroke="#8a0000" stroke-width="1.7"/>
<line x1="390.95" y1="609.3" x2="390.95" y2="607.0" stroke="#000" stroke-width="1"/>
<line x1="390.95" y1="402.5" x2="390.95" y2="404.8" stroke="#000" stroke-width="1"/>
<text x="390.95" y="625.9" font-size="13.2" text-anchor="middle" fill="#111">0</text>
<line x1="429.13" y1="609.3" x2="429.13" y2="607.0" stroke="#000" stroke-width="1"/>
<line x1="429.13" y1="402.5" x2="429.13" y2="404.8" stroke="#000" stroke-width="1"/>
<text x="429.13" y="625.9" font-size="13.2" text-anchor="middle" fill="#111">1</text>
<line x1="467.32" y1="609.3" x2="467.32" y2="607.0" stroke="#000" stroke-width="1"/>
<line x1="467.32" y1="402.5" x2="467.32" y2="404.8" stroke="#000" stroke-width="1"/>
<text x="467.32" y="625.9" font-size="13.2" text-anchor="middle" fill="#111">2</text>
<line x1="505.50" y1="609.3" x2="505.50" y2="607.0" stroke="#000" stroke-width="1"/>
<line x1="505.50" y1="402.5" x2="505.50" y2="404.8" stroke="#000" stroke-width="1"/>
<text x="505.50" y="625.9" font-size="13.2" text-anchor="middle" fill="#111">3</text>
<line x1="543.68" y1="609.3" x2="543.68" y2="607.0" stroke="#000" stroke-width="1"/>
<line x1="543.68" y1="402.5" x2="543.68" y2="404.8" stroke="#000" stroke-width="1"/>
<text x="543.68" y="625.9" font-size="13.2" text-anchor="middle" fill="#111">4</text>
<line x1="581.87" y1="609.3" x2="581.87" y2="607.0" stroke="#000" stroke-width="1"/>
<line x1="581.87" y1="402.5" x2="581.87" y2="404.8" stroke="#000" stroke-width="1"/>
<text x="581.87" y="625.9" font-size="13.2" text-anchor="middle" fill="#111">5</text>
<line x1="620.05" y1="609.3" x2="620.05" y2="607.0" stroke="#000" stroke-width="1"/>
<line x1="620.05" y1="402.5" x2="620.05" y2="404.8" stroke="#000" stroke-width="1"/>
<text x="620.05" y="625.9" font-size="13.2" text-anchor="middle" fill="#111">6</text>
<line x1="390.95" y1="609.30" x2="393.25" y2="609.30" stroke="#000" stroke-width="1"/>
<line x1="620.05" y1="609.30" x2="617.75" y2="609.30" stroke="#000" stroke-width="1"/>
<text x="387.1" y="614.0" font-size="13.2" text-anchor="end" fill="#111">0</text>
<line x1="390.95" y1="557.60" x2="393.25" y2="557.60" stroke="#000" stroke-width="1"/>
<line x1="620.05" y1="557.60" x2="617.75" y2="557.60" stroke="#000" stroke-width="1"/>
<text x="387.1" y="562.3" font-size="13.2" text-anchor="end" fill="#111">75</text>
<line x1="390.95" y1="505.90" x2="393.25" y2="505.90" stroke="#000" stroke-width="1"/>
<line x1="620.05" y1="505.90" x2="617.75" y2="505.90" stroke="#000" stroke-width="1"/>
<text x="387.1" y="510.6" font-size="13.2" text-anchor="end" fill="#111">150</text>
<line x1="390.95" y1="454.20" x2="393.25" y2="454.20" stroke="#000" stroke-width="1"/>
<line x1="620.05" y1="454.20" x2="617.75" y2="454.20" stroke="#000" stroke-width="1"/>
<text x="387.1" y="458.9" font-size="13.2" text-anchor="end" fill="#111">225</text>
<line x1="390.95" y1="402.50" x2="393.25" y2="402.50" stroke="#000" stroke-width="1"/>
<line x1="620.05" y1="402.50" x2="617.75" y2="402.50" stroke="#000" stroke-width="1"/>
<text x="387.1" y="407.2" font-size="13.2" text-anchor="end" fill="#111">300</text>
<text x="505.2" y="643.9" font-size="13.8" text-anchor="middle" fill="#111">Time (sec)</text>
<text x="618.8" y="650.3" font-size="13.3" text-anchor="end" fill="#111">x 10<tspan dy="-9.2" dx="0.6" font-size="9.8">4</tspan></text>
<text transform="translate(354.9,506.4) rotate(-90)" font-size="14.1" text-anchor="middle" textLength="220" lengthAdjust="spacingAndGlyphs" fill="#111">Average Number of GFP Molecules</text>
<text x="399.3" y="430.4" font-size="13.8" textLength="9.3" lengthAdjust="spacingAndGlyphs" fill="#111">D</text>
<rect x="429.15" y="350.4" width="152.4" height="44.5" fill="#fff" stroke="#000" stroke-width="1.3"/>
<line x1="437.0" y1="358.7" x2="476.5" y2="358.7" stroke="#1c1cf5" stroke-width="1.55"/>
<text x="481.2" y="363.0" font-size="11.6" textLength="93.6" lengthAdjust="spacingAndGlyphs" fill="#111">Des 3.1 /w 2000 Tc</text>
<line x1="437.0" y1="372.6" x2="476.5" y2="372.6" stroke="#148414" stroke-width="1.25"/>
<text x="481.2" y="376.9" font-size="11.6" textLength="93.6" lengthAdjust="spacingAndGlyphs" fill="#111">Des 3.5 /w 2000 Tc</text>
<line x1="437.0" y1="386.3" x2="476.5" y2="386.3" stroke="#ee2222" stroke-width="1.25"/>
<text x="481.2" y="390.6" font-size="11.6" textLength="93.6" lengthAdjust="spacingAndGlyphs" fill="#111">Des 3.6 /w 2000 Tc</text>
</g>
</svg>
</body></html>
